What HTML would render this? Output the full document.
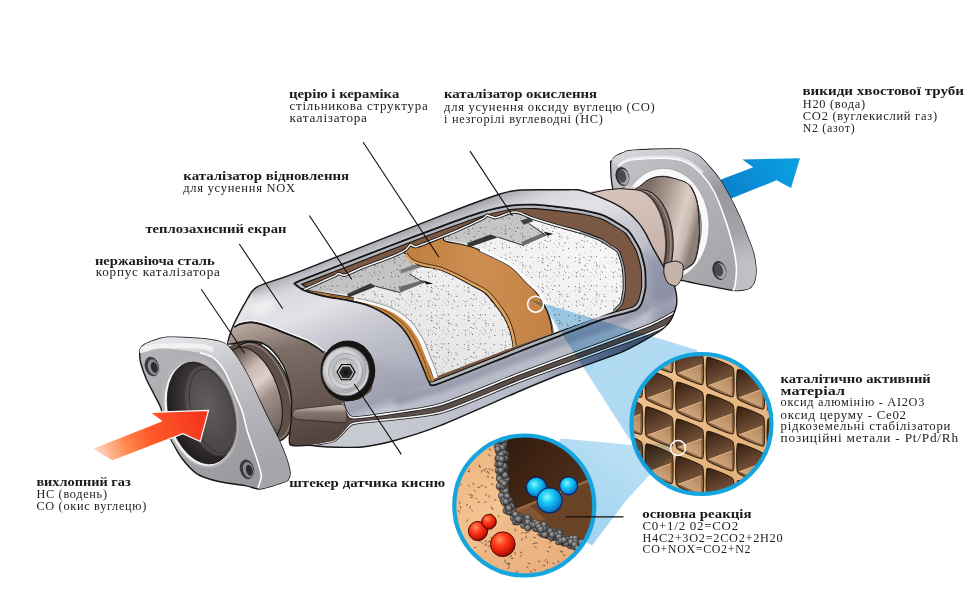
<!DOCTYPE html>
<html><head><meta charset="utf-8"><style>
html,body{margin:0;padding:0;background:#fff;width:976px;height:616px;overflow:hidden;}
svg{display:block;}
text{font-family:"Liberation Serif",serif;}
</style></head><body>
<svg width="976" height="616" viewBox="0 0 976 616">
<defs>
<linearGradient id="redArrow" x1="92" y1="455" x2="208" y2="415" gradientUnits="userSpaceOnUse"><stop offset="0" stop-color="#fde6da"/><stop offset="0.28" stop-color="#ff8a50"/><stop offset="0.5" stop-color="#ff5a28"/><stop offset="1" stop-color="#f3321e"/></linearGradient>
<linearGradient id="blueArrow" x1="715" y1="195" x2="800" y2="160" gradientUnits="userSpaceOnUse"><stop offset="0" stop-color="#0a7cc8"/><stop offset="0.45" stop-color="#0b8ed6"/><stop offset="1" stop-color="#08a2e2"/></linearGradient>
<linearGradient id="shell" x1="337" y1="250" x2="405" y2="432" gradientUnits="userSpaceOnUse"><stop offset="0" stop-color="#98989f"/><stop offset="0.03" stop-color="#a8a8b0"/><stop offset="0.07" stop-color="#c4c4cc"/><stop offset="0.12" stop-color="#d8d8de"/><stop offset="0.25" stop-color="#e2e2e7"/><stop offset="0.4" stop-color="#cacbd3"/><stop offset="0.55" stop-color="#babcc7"/><stop offset="0.7" stop-color="#aeb0be"/><stop offset="0.8" stop-color="#9fa2b3"/><stop offset="0.86" stop-color="#c6c8d2"/><stop offset="0.92" stop-color="#b6b8c4"/><stop offset="1" stop-color="#9a9cab"/></linearGradient>
<linearGradient id="shellL" x1="0" y1="0" x2="1" y2="0.4"><stop offset="0" stop-color="#e8e8ec"/><stop offset="0.5" stop-color="#c0c2c8"/><stop offset="1" stop-color="#9a9ca6"/></linearGradient>
<linearGradient id="flSide" x1="0" y1="0" x2="0.25" y2="1"><stop offset="0" stop-color="#ececf0"/><stop offset="0.3" stop-color="#c8c8cc"/><stop offset="0.7" stop-color="#b0b0b6"/><stop offset="1" stop-color="#a4a4aa"/></linearGradient>
<linearGradient id="flSideT" x1="0" y1="0" x2="0" y2="1"><stop offset="0" stop-color="#d8d8dc"/><stop offset="1" stop-color="#f4f4f6"/></linearGradient>
<linearGradient id="flFace" x1="0" y1="0" x2="1" y2="1"><stop offset="0" stop-color="#b8b8bc"/><stop offset="0.5" stop-color="#a4a4a8"/><stop offset="1" stop-color="#949498"/></linearGradient>
<linearGradient id="neckA" x1="0" y1="0" x2="1" y2="0.25"><stop offset="0" stop-color="#5c4c46"/><stop offset="0.3" stop-color="#8a7870"/><stop offset="0.5" stop-color="#d4c4bc"/><stop offset="0.62" stop-color="#a89890"/><stop offset="1" stop-color="#4c3c38"/></linearGradient>
<linearGradient id="neckB" x1="0" y1="0" x2="1" y2="0.25"><stop offset="0" stop-color="#d6c6bc"/><stop offset="0.35" stop-color="#a89288"/><stop offset="0.6" stop-color="#c8b8ae"/><stop offset="1" stop-color="#6a5a54"/></linearGradient>
<radialGradient id="opening" cx="0.62" cy="0.45" r="0.65"><stop offset="0" stop-color="#6e6666"/><stop offset="0.55" stop-color="#3e3636"/><stop offset="1" stop-color="#1c1818"/></radialGradient>
<linearGradient id="ceramA" x1="0" y1="1" x2="0.8" y2="0"><stop offset="0" stop-color="#b4b4b4"/><stop offset="0.35" stop-color="#e4e4e4"/><stop offset="1" stop-color="#f2f2f2"/></linearGradient>
<linearGradient id="ceramB" x1="0" y1="1" x2="0.8" y2="0"><stop offset="0" stop-color="#c8c8c8"/><stop offset="0.3" stop-color="#eeeeee"/><stop offset="1" stop-color="#f8f8f8"/></linearGradient>
<linearGradient id="topSurf" x1="0" y1="0" x2="1" y2="1"><stop offset="0" stop-color="#bcbcbc"/><stop offset="0.5" stop-color="#cacaca"/><stop offset="1" stop-color="#d6d6d6"/></linearGradient>
<linearGradient id="orange" x1="0" y1="0" x2="1" y2="0"><stop offset="0" stop-color="#c48040"/><stop offset="0.5" stop-color="#d49456"/><stop offset="1" stop-color="#c88446"/></linearGradient>
<pattern id="mesh" width="2.6" height="2.6" patternUnits="userSpaceOnUse" patternTransform="rotate(-25)"><path d="M0,0 H2.6 M0,0 V2.6" stroke="#8a5022" stroke-width="0.45" opacity="0.55"/></pattern>
<radialGradient id="sensorDisc" cx="0.45" cy="0.42" r="0.6"><stop offset="0" stop-color="#f4f4f4"/><stop offset="0.55" stop-color="#b4b4b8"/><stop offset="0.85" stop-color="#d8d8dc"/><stop offset="1" stop-color="#a0a0a4"/></radialGradient>
<radialGradient id="blueBall" cx="0.4" cy="0.36" r="0.7"><stop offset="0" stop-color="#90f4ff"/><stop offset="0.35" stop-color="#18ccf4"/><stop offset="0.75" stop-color="#0a8ad8"/><stop offset="1" stop-color="#0650a8"/></radialGradient>
<radialGradient id="redBall" cx="0.38" cy="0.32" r="0.7"><stop offset="0" stop-color="#ff9060"/><stop offset="0.4" stop-color="#ff3a18"/><stop offset="0.8" stop-color="#d01808"/><stop offset="1" stop-color="#801008"/></radialGradient>
<radialGradient id="grayBall" cx="0.38" cy="0.32" r="0.7"><stop offset="0" stop-color="#a8a8a8"/><stop offset="0.6" stop-color="#686868"/><stop offset="1" stop-color="#3a3a3a"/></radialGradient>
<linearGradient id="darkBrown" x1="0" y1="0" x2="1" y2="1"><stop offset="0" stop-color="#2c180c"/><stop offset="0.5" stop-color="#4a2a18"/><stop offset="1" stop-color="#6a4428"/></linearGradient>
<radialGradient id="tan" cx="0.35" cy="0.65" r="0.75"><stop offset="0" stop-color="#f6c898"/><stop offset="0.7" stop-color="#eeb884"/><stop offset="1" stop-color="#e4a874"/></radialGradient>
<linearGradient id="cone1" x1="0" y1="0" x2="1" y2="1"><stop offset="0" stop-color="#9ccff0"/><stop offset="0.5" stop-color="#b2dbf3"/><stop offset="1" stop-color="#aad6f2"/></linearGradient>
<linearGradient id="cone2" x1="1" y1="0" x2="0" y2="1"><stop offset="0" stop-color="#c4e4f6"/><stop offset="1" stop-color="#94cdee"/></linearGradient>
<linearGradient id="hcWall" x1="0" y1="0" x2="1" y2="1"><stop offset="0" stop-color="#f0c48e"/><stop offset="1" stop-color="#e2ae78"/></linearGradient>
<linearGradient id="flFaceO" x1="0" y1="0" x2="1" y2="1"><stop offset="0" stop-color="#c4c4c8"/><stop offset="0.5" stop-color="#b2b2b6"/><stop offset="1" stop-color="#a0a0a4"/></linearGradient>
<linearGradient id="flSideO" x1="0" y1="0" x2="0.35" y2="1"><stop offset="0" stop-color="#dcdce0"/><stop offset="0.2" stop-color="#c8c8cc"/><stop offset="0.5" stop-color="#96969c"/><stop offset="0.8" stop-color="#a4a4aa"/><stop offset="1" stop-color="#c0c0c4"/></linearGradient>
<linearGradient id="neckO" x1="645" y1="200" x2="700" y2="215" gradientUnits="userSpaceOnUse"><stop offset="0" stop-color="#7e6c64"/><stop offset="0.35" stop-color="#a89890"/><stop offset="0.7" stop-color="#dccec6"/><stop offset="0.85" stop-color="#c8b8b0"/><stop offset="1" stop-color="#8e7e78"/></linearGradient>
<linearGradient id="ecG" x1="0" y1="0" x2="0" y2="1"><stop offset="0" stop-color="#d6c4ba"/><stop offset="0.6" stop-color="#c8b4aa"/><stop offset="1" stop-color="#a8948a"/></linearGradient>
<linearGradient id="neckC" x1="235" y1="335" x2="275" y2="445" gradientUnits="userSpaceOnUse"><stop offset="0" stop-color="#4e3e3a"/><stop offset="0.18" stop-color="#6e5e58"/><stop offset="0.35" stop-color="#c8bab2"/><stop offset="0.48" stop-color="#dcd0c8"/><stop offset="0.62" stop-color="#a09088"/><stop offset="0.85" stop-color="#7a6a64"/><stop offset="1" stop-color="#4a3a36"/></linearGradient>
<clipPath id="bodyClip"><path d="M227.8,344.0 C227.0,343.2 228.9,338.1 229.5,336.0 C230.1,333.9 231.8,328.8 233.0,326.0 C234.2,323.2 238.4,315.1 240.0,312.0 C241.6,308.9 245.7,301.8 247.0,299.5 C248.3,297.2 250.4,293.4 251.5,292.0 C252.6,290.6 254.7,288.5 256.0,287.6 C257.3,286.7 257.8,286.2 262.9,284.3 C268.0,282.4 278.7,279.5 300.0,271.3 C321.3,263.1 422.4,222.9 445.7,213.9 C469.0,204.9 491.3,196.8 500.0,194.0 C508.7,191.2 513.0,190.5 520.0,190.0 C527.0,189.5 553.2,189.8 560.0,189.8 C566.8,189.8 574.4,189.4 577.9,189.8 C581.4,190.2 586.2,191.8 590.4,193.4 C594.6,195.0 609.2,201.0 613.6,203.2 C618.0,205.4 625.0,209.8 627.9,212.1 C630.8,214.4 636.5,220.4 638.6,222.9 C640.7,225.4 644.0,230.7 645.7,233.6 C647.4,236.5 651.2,244.8 652.9,247.9 C654.6,251.0 658.5,257.7 660.0,260.4 C661.5,263.1 664.6,268.7 666.0,271.0 C667.4,273.3 670.8,277.6 672.0,280.0 C673.2,282.4 675.5,289.1 676.0,292.0 C676.5,294.9 677.1,301.7 676.5,305.0 C675.9,308.3 672.9,317.0 671.0,320.0 C669.1,323.0 665.6,327.3 660.0,331.0 C654.4,334.7 635.0,346.2 623.3,351.3 C611.6,356.4 572.1,369.9 560.0,374.5 C547.9,379.1 534.0,385.0 520.0,391.0 C506.0,397.0 454.6,419.9 440.0,425.7 C425.4,431.5 403.9,438.0 394.8,440.5 C385.7,443.0 369.6,446.2 362.0,447.0 C354.4,447.8 336.1,447.2 330.0,447.0 C323.9,446.8 314.2,445.7 309.5,445.4 C304.8,445.1 292.2,447.3 290.0,444.5 C287.8,441.7 290.8,426.2 291.0,421.0 C291.2,415.8 291.7,404.6 291.5,400.0 C291.3,395.4 290.0,386.1 289.0,382.0 C288.0,377.9 284.9,368.6 283.0,365.0 C281.1,361.4 275.4,353.6 273.0,351.0 C270.6,348.4 264.9,344.2 262.0,343.0 C259.1,341.8 251.0,341.0 248.0,341.0 C245.0,341.0 238.4,342.6 236.0,343.0 C233.6,343.4 228.6,344.8 227.8,344.0 Z"/></clipPath>
<filter id="blur4" x="-50%" y="-50%" width="200%" height="200%"><feGaussianBlur stdDeviation="5"/></filter>
<filter id="blur2" x="-50%" y="-50%" width="200%" height="200%"><feGaussianBlur stdDeviation="2.5"/></filter>
<linearGradient id="lobeG" x1="380" y1="400" x2="660" y2="350" gradientUnits="userSpaceOnUse"><stop offset="0" stop-color="#c8cad2"/><stop offset="0.55" stop-color="#b4b8c6"/><stop offset="0.75" stop-color="#7a8098"/><stop offset="1" stop-color="#4a5068"/></linearGradient>
<linearGradient id="endcone" x1="0" y1="0" x2="0.3" y2="1"><stop offset="0" stop-color="#c2b2aa"/><stop offset="0.12" stop-color="#a89890"/><stop offset="0.3" stop-color="#7e6e68"/><stop offset="0.7" stop-color="#66564f"/><stop offset="1" stop-color="#54443e"/></linearGradient>
<linearGradient id="finG" x1="0" y1="0" x2="0" y2="1"><stop offset="0" stop-color="#cbbdb6"/><stop offset="0.3" stop-color="#a89890"/><stop offset="0.45" stop-color="#857570"/><stop offset="1" stop-color="#6e5e58"/></linearGradient>
<clipPath id="winClip"><path d="M295.5,284.5 C295.3,283.6 290.4,284.5 300.0,280.5 C309.6,276.5 378.0,250.2 392.0,244.8 C406.0,239.4 431.2,229.8 440.0,226.6 C448.8,223.4 473.0,214.6 480.0,212.5 C487.0,210.4 504.5,206.3 510.0,205.5 C515.5,204.7 530.0,204.3 535.0,204.5 C540.0,204.7 555.0,206.4 560.0,207.0 C565.0,207.6 580.5,209.6 585.0,210.5 C589.5,211.4 600.3,213.8 604.6,215.7 C608.9,217.6 624.4,226.7 627.9,230.0 C631.4,233.3 638.2,245.1 639.9,248.9 C641.6,252.7 644.6,264.5 645.2,268.4 C645.8,272.3 646.0,284.4 645.7,287.9 C645.4,291.4 642.9,301.1 641.8,303.4 C640.7,305.7 639.2,308.8 635.0,310.5 C630.8,312.2 607.5,317.9 600.0,320.5 C592.5,323.1 568.0,332.9 560.0,336.0 C552.0,339.1 532.3,346.5 520.0,351.4 C507.7,356.2 446.1,381.4 437.0,384.5 C427.9,387.6 430.2,383.2 429.0,382.0 C427.8,380.8 425.8,374.7 424.7,372.1 C423.6,369.5 419.4,359.1 418.0,356.0 C416.6,352.9 412.1,343.5 410.9,341.2 C409.7,338.9 407.1,334.5 406.0,333.0 C404.9,331.5 401.6,327.4 400.0,325.8 C398.4,324.2 392.1,319.0 390.0,317.5 C387.9,316.0 381.0,311.7 378.5,310.4 C376.0,309.1 368.1,305.5 365.0,304.5 C361.9,303.5 351.5,301.2 348.0,300.5 C344.5,299.8 333.3,298.1 330.0,297.5 C326.7,296.9 317.8,294.8 315.0,294.0 C312.2,293.2 303.9,290.4 302.0,289.5 C300.1,288.6 295.7,285.4 295.5,284.5 Z"/></clipPath>
<clipPath id="inClip"><path d="M300.0,291.0 C299.4,290.7 303.8,289.8 306.1,288.8 C308.4,287.8 320.1,282.4 323.0,281.1 C325.9,279.8 333.8,276.5 335.3,275.7 C336.8,274.9 337.5,273.4 338.4,273.4 C339.3,273.4 342.3,275.8 344.6,275.3 C346.9,274.8 356.7,269.9 361.5,268.0 C366.3,266.1 387.8,258.3 392.2,256.5 C396.6,254.7 404.2,250.8 406.0,249.6 C407.8,248.4 409.5,244.8 410.6,244.5 C411.7,244.2 412.9,247.6 416.8,246.5 C420.7,245.4 446.2,235.0 450.0,233.5 C453.8,232.0 451.7,233.0 455.0,231.5 C458.3,230.0 480.1,219.9 483.3,218.3 C486.5,216.7 485.8,215.3 487.0,215.2 C488.2,215.1 493.5,217.9 495.6,217.7 C497.7,217.5 505.8,214.0 507.9,213.4 C510.0,212.8 514.9,212.0 516.5,212.1 C518.1,212.2 522.4,214.0 523.9,214.6 C525.4,215.2 527.6,216.5 531.2,217.7 C534.8,218.9 555.1,225.1 560.0,226.5 C564.9,227.9 576.0,230.7 580.0,232.0 C584.0,233.3 596.8,238.0 600.0,239.5 C603.2,241.0 610.1,245.8 612.0,247.0 C613.9,248.2 617.4,249.9 618.5,252.0 C619.6,254.1 622.8,264.8 623.4,268.4 C624.0,272.0 624.5,284.5 624.3,288.0 C624.1,291.5 622.4,301.1 621.4,303.4 C620.4,305.7 616.1,309.7 614.0,311.0 C611.9,312.3 605.4,314.6 600.0,316.5 C594.6,318.4 568.0,327.7 560.0,330.5 C552.0,333.3 532.0,340.1 520.0,344.5 C508.0,348.9 448.6,371.6 440.0,375.0 C431.4,378.4 435.3,378.7 434.0,378.0 C432.7,377.3 428.4,370.6 427.0,368.0 C425.6,365.4 421.4,355.0 420.0,352.0 C418.6,349.0 414.6,340.7 413.0,338.0 C411.4,335.3 406.1,327.4 404.0,325.0 C401.9,322.6 394.6,315.9 392.0,314.0 C389.4,312.1 380.7,307.8 378.0,306.5 C375.3,305.2 368.0,302.4 365.0,301.5 C362.0,300.6 351.5,298.2 348.0,297.5 C344.5,296.8 333.6,295.1 330.0,294.5 C326.4,293.9 315.0,292.4 312.0,292.0 C309.0,291.6 300.6,291.3 300.0,291.0 Z"/></clipPath>
<pattern id="speck" width="37" height="29" patternUnits="userSpaceOnUse"><g fill="#333"><circle cx="12.0" cy="4.4" r="0.50"/><circle cx="2.7" cy="15.5" r="0.41"/><circle cx="2.1" cy="14.7" r="0.31"/><circle cx="16.0" cy="2.0" r="0.33"/><circle cx="15.7" cy="24.0" r="0.34"/><circle cx="8.3" cy="18.2" r="0.58"/><circle cx="21.4" cy="11.5" r="0.59"/><circle cx="1.7" cy="24.9" r="0.39"/><circle cx="5.3" cy="3.4" r="0.39"/><circle cx="30.2" cy="5.2" r="0.47"/><circle cx="23.6" cy="10.8" r="0.46"/><circle cx="2.3" cy="1.7" r="0.36"/><circle cx="25.2" cy="12.4" r="0.39"/><circle cx="21.7" cy="13.1" r="0.39"/><circle cx="29.4" cy="20.3" r="0.37"/><circle cx="21.3" cy="15.2" r="0.56"/><circle cx="27.0" cy="8.4" r="0.59"/><circle cx="4.4" cy="12.1" r="0.53"/><circle cx="5.6" cy="14.2" r="0.31"/><circle cx="24.7" cy="22.2" r="0.47"/><circle cx="32.4" cy="9.1" r="0.51"/><circle cx="22.0" cy="16.8" r="0.44"/><circle cx="31.1" cy="27.4" r="0.44"/><circle cx="24.6" cy="1.8" r="0.51"/><circle cx="23.9" cy="28.8" r="0.55"/><circle cx="10.5" cy="11.2" r="0.50"/><circle cx="0.8" cy="13.4" r="0.35"/><circle cx="4.3" cy="1.7" r="0.53"/><circle cx="4.8" cy="7.2" r="0.42"/><circle cx="32.2" cy="2.3" r="0.43"/><circle cx="20.3" cy="25.6" r="0.55"/><circle cx="32.0" cy="8.1" r="0.42"/><circle cx="13.3" cy="25.6" r="0.59"/><circle cx="5.6" cy="5.1" r="0.37"/><circle cx="8.6" cy="14.1" r="0.48"/><circle cx="9.7" cy="0.1" r="0.43"/><circle cx="13.7" cy="16.4" r="0.59"/><circle cx="25.5" cy="14.9" r="0.49"/><circle cx="25.0" cy="1.6" r="0.57"/><circle cx="28.9" cy="25.4" r="0.54"/><circle cx="14.5" cy="11.6" r="0.33"/><circle cx="23.5" cy="1.8" r="0.32"/><circle cx="7.7" cy="4.7" r="0.40"/><circle cx="1.9" cy="0.0" r="0.35"/><circle cx="3.8" cy="10.5" r="0.31"/><circle cx="32.4" cy="17.8" r="0.34"/><circle cx="9.3" cy="10.1" r="0.41"/><circle cx="4.5" cy="24.6" r="0.60"/><circle cx="17.2" cy="14.0" r="0.33"/><circle cx="3.8" cy="9.9" r="0.38"/><circle cx="30.7" cy="4.7" r="0.31"/><circle cx="35.2" cy="15.3" r="0.34"/><circle cx="20.1" cy="0.8" r="0.46"/><circle cx="36.2" cy="25.0" r="0.51"/><circle cx="9.7" cy="10.6" r="0.35"/><circle cx="28.6" cy="15.4" r="0.53"/><circle cx="12.2" cy="6.5" r="0.54"/><circle cx="36.4" cy="24.7" r="0.54"/><circle cx="30.3" cy="21.5" r="0.37"/><circle cx="19.2" cy="10.3" r="0.31"/><circle cx="1.0" cy="8.1" r="0.38"/><circle cx="25.6" cy="27.7" r="0.43"/><circle cx="34.7" cy="28.7" r="0.59"/><circle cx="13.5" cy="6.4" r="0.37"/><circle cx="7.3" cy="5.9" r="0.49"/><circle cx="33.3" cy="24.4" r="0.44"/><circle cx="24.2" cy="23.2" r="0.33"/><circle cx="24.4" cy="26.4" r="0.53"/><circle cx="27.8" cy="13.9" r="0.35"/><circle cx="29.2" cy="9.6" r="0.54"/><circle cx="36.0" cy="11.5" r="0.42"/><circle cx="35.0" cy="21.0" r="0.35"/><circle cx="4.7" cy="4.4" r="0.57"/><circle cx="29.8" cy="4.2" r="0.55"/><circle cx="36.3" cy="19.1" r="0.41"/></g></pattern>
<radialGradient id="sensorDisc2" cx="0.45" cy="0.45" r="0.6"><stop offset="0" stop-color="#f0f0f0"/><stop offset="0.35" stop-color="#b8b8bc"/><stop offset="0.6" stop-color="#d8d8dc"/><stop offset="0.8" stop-color="#a8a8ac"/><stop offset="0.92" stop-color="#e4e4e8"/><stop offset="1" stop-color="#9a9a9e"/></radialGradient>
<radialGradient id="hexIn" cx="0.5" cy="0.5" r="0.6"><stop offset="0" stop-color="#101010"/><stop offset="1" stop-color="#3a3a3a"/></radialGradient>
<clipPath id="hcClip"><circle cx="701.5" cy="424" r="70"/></clipPath>
<linearGradient id="cellG" x1="0" y1="0" x2="0.3" y2="1"><stop offset="0" stop-color="#341e0f"/><stop offset="0.45" stop-color="#5e3f2a"/><stop offset="1" stop-color="#8e6846"/></linearGradient>
<linearGradient id="triG" x1="0" y1="1" x2="1" y2="0"><stop offset="0" stop-color="#dab48c"/><stop offset="0.6" stop-color="#c49a70"/><stop offset="1" stop-color="#b0845c"/></linearGradient>
<clipPath id="rcClip"><circle cx="524.3" cy="505.5" r="70"/></clipPath>
</defs>
<rect width="976" height="616" fill="#ffffff"/>
<polygon points="800.0,158.2 742.3,159.5 753.2,167.3 712.0,183.0 720.0,203.0 776.6,180.3 791.0,188.0" fill="url(#blueArrow)"/>
<path d="M610.6,164.4 C610.4,159.5 610.8,162.2 611.7,160.8 C612.6,159.4 614.0,157.4 616.0,156.0 C618.0,154.6 621.5,153.4 624.0,152.5 C626.5,151.6 622.2,151.0 631.2,150.4 C640.2,149.8 668.2,148.8 678.0,149.0 C687.8,149.2 686.5,150.4 690.0,151.5 C693.5,152.6 695.7,153.3 698.7,155.6 C701.7,157.8 704.5,161.1 708.0,165.0 C711.5,168.9 715.8,173.7 719.5,179.0 C723.2,184.3 726.5,190.5 730.0,197.0 C733.5,203.5 737.5,211.7 740.3,218.0 C743.1,224.3 744.9,229.4 747.0,235.0 C749.1,240.6 751.7,246.5 753.2,251.7 C754.7,256.9 755.4,262.1 755.8,266.0 C756.2,269.9 756.2,272.0 755.8,275.0 C755.4,278.0 754.8,281.7 753.5,284.0 C752.2,286.3 751.1,287.9 748.0,289.0 C744.9,290.1 741.2,291.1 735.0,290.6 C728.8,290.2 718.9,287.8 710.8,286.3 C702.7,284.8 693.3,283.1 686.5,281.4 C679.7,279.7 676.9,280.4 670.0,276.0 C663.1,271.6 652.5,263.5 645.0,255.0 C637.5,246.5 630.3,235.8 625.0,225.0 C619.7,214.2 615.4,200.1 613.0,190.0 C610.6,179.9 610.8,169.3 610.6,164.4 Z" fill="url(#flFaceO)" stroke="#161616" stroke-width="1.3"/>
<path d="M611.7,160.8 C611.4,159.6 614.6,157.0 616.0,156.0 C617.4,155.0 622.2,153.2 624.0,152.5 C625.8,151.8 624.9,150.8 631.2,150.4 C637.5,150.0 671.1,148.9 678.0,149.0 C684.9,149.1 687.6,150.7 690.0,151.5 C692.4,152.3 696.6,154.0 698.7,155.6 C700.8,157.2 705.6,162.3 708.0,165.0 C710.4,167.7 716.9,175.3 719.5,179.0 C722.1,182.7 727.6,192.4 730.0,197.0 C732.4,201.6 738.3,213.6 740.3,218.0 C742.3,222.4 745.5,231.1 747.0,235.0 C748.5,238.9 752.2,248.1 753.2,251.7 C754.2,255.3 755.5,263.3 755.8,266.0 C756.1,268.7 756.1,272.9 755.8,275.0 C755.5,277.1 754.4,282.4 753.5,284.0 C752.6,285.6 750.2,288.2 748.0,289.0 C745.8,289.8 736.8,290.4 735.0,290.6 C733.2,290.8 733.0,291.1 733.0,290.5 C733.0,289.9 734.6,288.2 735.0,285.5 C735.4,282.8 736.7,272.1 736.4,267.3 C736.1,262.5 733.9,249.8 732.5,244.0 C731.1,238.2 726.8,224.1 724.7,218.0 C722.6,211.9 717.0,197.2 714.3,192.0 C711.6,186.8 704.6,177.3 701.3,173.8 C698.0,170.3 689.9,163.8 685.7,162.0 C681.5,160.2 671.1,158.5 665.0,158.2 C658.9,157.9 638.6,159.1 633.8,159.5 C629.0,159.9 625.8,161.2 624.0,162.0 C622.2,162.8 619.6,166.1 618.2,166.0 C616.8,165.9 612.0,162.0 611.7,160.8 Z" fill="url(#flSideO)"/>
<path d="M618.2,166.0 C619.0,165.5 621.9,162.9 624.0,162.0 C626.1,161.1 628.3,160.0 633.8,159.5 C639.3,159.0 658.1,157.9 665.0,158.2 C671.9,158.5 680.9,159.9 685.7,162.0 C690.5,164.1 697.5,169.8 701.3,173.8 C705.1,177.8 711.2,186.1 714.3,192.0 C717.4,197.9 722.3,211.1 724.7,218.0 C727.1,224.9 730.9,237.4 732.5,244.0 C734.1,250.6 736.1,261.8 736.4,267.3 C736.7,272.8 735.5,282.4 735.0,285.5 C734.5,288.6 733.3,289.8 733.0,290.5" fill="none" stroke="#ffffff" stroke-width="1.6"/>
<path d="M619.7,164.8 C620.5,164.3 623.4,161.7 625.5,160.8 C627.6,159.9 629.8,158.8 635.3,158.3 C640.8,157.8 659.6,156.7 666.5,157.0 C673.4,157.3 682.4,158.7 687.2,160.8 C692.0,162.9 700.7,171.0 702.8,172.6" fill="none" stroke="#f0f0f2" stroke-width="3" opacity="0.7"/>
<ellipse cx="622.5" cy="176.5" rx="6.8" ry="9.6" transform="rotate(-15 622.5 176.5)" fill="#2e2e32"/>
<ellipse cx="623.3" cy="177.3" rx="5.4" ry="8" transform="rotate(-15 622.5 176.5)" fill="#a4a4a8"/>
<ellipse cx="621.9" cy="175.9" rx="4.2" ry="6.6" transform="rotate(-15 622.5 176.5)" fill="#4a4a4e"/>
<ellipse cx="719.4" cy="270.5" rx="6.8" ry="9.6" transform="rotate(-15 719.4 270.5)" fill="#2e2e32"/>
<ellipse cx="720.1999999999999" cy="271.3" rx="5.4" ry="8" transform="rotate(-15 719.4 270.5)" fill="#a4a4a8"/>
<ellipse cx="718.8" cy="269.9" rx="4.2" ry="6.6" transform="rotate(-15 719.4 270.5)" fill="#4a4a4e"/>
<ellipse cx="664.7" cy="224.4" rx="44.4" ry="56.2" transform="rotate(-3 664.7 224.4)" fill="#f8f8f8" stroke="#8a8a8e" stroke-width="0.6"/>
<ellipse cx="664" cy="225.5" rx="37.5" ry="49.5" transform="rotate(-3 664 225.5)" fill="#a8a8ac" stroke="#6a6a6e" stroke-width="0.8"/>
<path d="M620.0,190.0 C623.5,184.8 631.2,190.2 636.0,188.5 C640.8,186.8 644.4,181.5 648.7,179.5 C653.0,177.5 656.7,176.5 661.7,176.5 C666.7,176.5 674.0,178.2 678.7,179.7 C683.4,181.1 687.0,182.6 689.7,185.2 C692.4,187.8 693.6,191.3 695.0,195.0 C696.4,198.7 697.3,200.7 698.0,207.3 C698.7,214.0 699.9,226.2 699.4,234.9 C698.9,243.6 697.3,254.2 695.2,259.7 C693.1,265.2 690.9,265.4 687.0,268.0 C683.1,270.6 677.3,273.0 672.0,275.0 C666.7,277.0 660.3,278.3 655.0,280.0 C649.7,281.7 645.0,288.3 640.0,285.0 C635.0,281.7 629.2,270.8 625.0,260.0 C620.8,249.2 615.8,231.7 615.0,220.0 C614.2,208.3 616.5,195.2 620.0,190.0 Z" fill="url(#neckO)" stroke="#161616" stroke-width="1"/>
<path d="M689.7,185.2 C690.6,186.8 693.6,191.3 695.0,195.0 C696.4,198.7 697.3,200.7 698.0,207.3 C698.7,214.0 699.9,226.2 699.4,234.9 C698.9,243.6 697.3,254.2 695.2,259.7 C693.1,265.2 688.4,266.6 687.0,268.0" fill="none" stroke="#3a302c" stroke-width="1.2"/>
<ellipse cx="644" cy="241.6" rx="29.2" ry="51.8" transform="rotate(-3 644 241.6)" fill="#6e5e58" stroke="#161616" stroke-width="0.9"/>
<ellipse cx="642.5" cy="241.6" rx="28.4" ry="51" transform="rotate(-3 642.5 241.6)" fill="none" stroke="#a29088" stroke-width="1.2"/>
<path d="M588.0,193.4 C589.0,190.1 602.9,190.3 605.0,190.0 C607.1,189.7 617.9,188.5 620.0,188.5 C622.1,188.5 634.9,182.4 636.0,189.8 C637.1,197.2 638.4,292.7 636.0,300.0 C633.6,307.3 603.1,304.0 600.0,300.0 C596.9,296.0 590.8,247.1 590.0,240.0 C589.2,232.9 587.0,196.7 588.0,193.4 Z" fill="url(#ecG)"/>
<ellipse cx="635.8" cy="241.6" rx="29.2" ry="51.8" transform="rotate(-3 635.8 241.6)" fill="url(#ecG)"/>
<path d="M635.8,189.8 A29.2,51.8 -3 0 1 638.5,293.3" fill="none" stroke="#161616" stroke-width="0.9"/>
<path d="M590,193.4 L605,190 L620,188.6 L636,189.8" fill="none" stroke="#161616" stroke-width="1"/>
<path d="M222,352 L240,339 L262,341 L262,446 L232,446 Z" fill="url(#neckC)"/>
<ellipse cx="262" cy="392" rx="28.5" ry="52" transform="rotate(-20 262 392)" fill="#5e4e48" stroke="#161616" stroke-width="1.1"/>
<ellipse cx="261" cy="392.3" rx="26.5" ry="50.5" transform="rotate(-20 261 392.3)" fill="none" stroke="#9a8a84" stroke-width="1.2" opacity="0.9"/>
<ellipse cx="253.5" cy="394" rx="25" ry="49" transform="rotate(-20 253.5 394)" fill="url(#neckC)" stroke="#161616" stroke-width="1"/>
<path d="M227.8,344.0 C227.0,343.2 228.9,338.1 229.5,336.0 C230.1,333.9 231.8,328.8 233.0,326.0 C234.2,323.2 238.4,315.1 240.0,312.0 C241.6,308.9 245.7,301.8 247.0,299.5 C248.3,297.2 250.4,293.4 251.5,292.0 C252.6,290.6 254.7,288.5 256.0,287.6 C257.3,286.7 257.8,286.2 262.9,284.3 C268.0,282.4 278.7,279.5 300.0,271.3 C321.3,263.1 422.4,222.9 445.7,213.9 C469.0,204.9 491.3,196.8 500.0,194.0 C508.7,191.2 513.0,190.5 520.0,190.0 C527.0,189.5 553.2,189.8 560.0,189.8 C566.8,189.8 574.4,189.4 577.9,189.8 C581.4,190.2 586.2,191.8 590.4,193.4 C594.6,195.0 609.2,201.0 613.6,203.2 C618.0,205.4 625.0,209.8 627.9,212.1 C630.8,214.4 636.5,220.4 638.6,222.9 C640.7,225.4 644.0,230.7 645.7,233.6 C647.4,236.5 651.2,244.8 652.9,247.9 C654.6,251.0 658.5,257.7 660.0,260.4 C661.5,263.1 664.6,268.7 666.0,271.0 C667.4,273.3 670.8,277.6 672.0,280.0 C673.2,282.4 675.5,289.1 676.0,292.0 C676.5,294.9 677.1,301.7 676.5,305.0 C675.9,308.3 672.9,317.0 671.0,320.0 C669.1,323.0 665.6,327.3 660.0,331.0 C654.4,334.7 635.0,346.2 623.3,351.3 C611.6,356.4 572.1,369.9 560.0,374.5 C547.9,379.1 534.0,385.0 520.0,391.0 C506.0,397.0 454.6,419.9 440.0,425.7 C425.4,431.5 403.9,438.0 394.8,440.5 C385.7,443.0 369.6,446.2 362.0,447.0 C354.4,447.8 336.1,447.2 330.0,447.0 C323.9,446.8 314.2,445.7 309.5,445.4 C304.8,445.1 292.2,447.3 290.0,444.5 C287.8,441.7 290.8,426.2 291.0,421.0 C291.2,415.8 291.7,404.6 291.5,400.0 C291.3,395.4 290.0,386.1 289.0,382.0 C288.0,377.9 284.9,368.6 283.0,365.0 C281.1,361.4 275.4,353.6 273.0,351.0 C270.6,348.4 264.9,344.2 262.0,343.0 C259.1,341.8 251.0,341.0 248.0,341.0 C245.0,341.0 238.4,342.6 236.0,343.0 C233.6,343.4 228.6,344.8 227.8,344.0 Z" fill="url(#shell)"/>
<g clip-path="url(#bodyClip)">
<ellipse cx="262" cy="306" rx="16" ry="9" transform="rotate(-25 262 306)" fill="#ffffff" opacity="0.6" filter="url(#blur4)"/>
<path d="M395.0,402.0 L440.0,389.0 L520.0,358.0 L560.0,343.0 L628.0,318.0 L650.0,305.0" fill="none" stroke="#8a8ea2" stroke-width="9" opacity="0.75" filter="url(#blur2)"/>
<path d="M372,360 L420,380 L400,400 L372,398 Z" fill="#9a9cac" opacity="0.5" filter="url(#blur4)"/>
<path d="M645,250 L678,268 L680,322 L655,333 Z" fill="#7e8298" opacity="0.6" filter="url(#blur4)"/>
<path d="M606,222 Q628,232 640,250" fill="none" stroke="#ffffff" stroke-width="3" opacity="0.8" filter="url(#blur2)"/>
<path d="M252,296 Q244,312 238,322" fill="none" stroke="#ffffff" stroke-width="4" opacity="0.6" filter="url(#blur2)"/>
<path d="M342.3,402.8 C346.9,398.7 344.6,409.5 345.6,411.0 C346.6,412.5 348.7,417.1 352.0,417.5 C355.3,417.9 369.6,416.3 378.4,415.0 C387.2,413.7 425.8,408.9 440.0,404.8 C454.2,400.7 504.0,379.6 520.0,373.5 C536.0,367.4 587.0,348.9 600.0,344.0 C613.0,339.1 643.2,327.8 650.0,325.0 C656.8,322.2 665.0,317.6 668.0,316.0 C671.0,314.4 678.8,308.8 680.0,309.0 C681.2,309.2 681.2,316.9 680.0,318.5 C678.8,320.1 671.0,323.6 668.0,325.0 C665.0,326.4 656.8,330.4 650.0,333.0 C643.2,335.6 613.0,346.7 600.0,351.5 C587.0,356.3 536.0,374.9 520.0,381.0 C504.0,387.1 456.1,408.4 440.0,412.6 C423.9,416.8 367.8,421.2 358.7,422.6 C349.6,424.0 351.4,424.6 348.9,426.4 C346.4,428.2 337.9,438.6 334.0,440.5 C330.1,442.4 312.9,444.2 309.5,445.4 C306.1,446.5 296.7,456.3 300.0,452.0 C303.3,447.7 337.7,406.9 342.3,402.8 Z" fill="#5c4e4a"/>
<path d="M342.3,402.8 C342.7,403.8 344.5,409.3 345.6,411.0 C346.7,412.7 348.2,417.0 352.0,417.5 C355.8,418.0 368.1,416.5 378.4,415.0 C388.7,413.5 423.5,409.6 440.0,404.8 C456.5,400.0 501.3,380.6 520.0,373.5 C538.7,366.4 584.8,349.7 600.0,344.0 C615.2,338.3 642.1,328.3 650.0,325.0 C657.9,321.7 664.5,317.9 668.0,316.0 C671.5,314.1 678.6,309.8 680.0,309.0" fill="none" stroke="#161616" stroke-width="3.2"/>
<path d="M342.3,402.8 C342.7,403.8 344.5,409.3 345.6,411.0 C346.7,412.7 348.2,417.0 352.0,417.5 C355.8,418.0 368.1,416.5 378.4,415.0 C388.7,413.5 423.5,409.6 440.0,404.8 C456.5,400.0 501.3,380.6 520.0,373.5 C538.7,366.4 584.8,349.7 600.0,344.0 C615.2,338.3 642.1,328.3 650.0,325.0 C657.9,321.7 664.5,317.9 668.0,316.0 C671.5,314.1 678.6,309.8 680.0,309.0" fill="none" stroke="#ffffff" stroke-width="1.6"/>
<path d="M300.0,452.0 C300.6,450.4 307.2,446.2 309.5,445.4 C311.8,444.6 331.4,441.8 334.0,440.5 C336.6,439.2 347.3,427.6 348.9,426.4 C350.5,425.2 352.6,423.5 358.7,422.6 C364.8,421.7 429.2,415.4 440.0,412.6 C450.8,409.8 509.3,385.1 520.0,381.0 C530.7,376.9 591.3,354.7 600.0,351.5 C608.7,348.3 645.5,334.8 650.0,333.0 C654.5,331.2 666.0,326.0 668.0,325.0 C670.0,324.0 678.5,318.2 680.0,318.5 C681.5,318.8 689.3,319.9 690.0,330.0 C690.7,340.1 716.0,460.7 690.0,470.0 C664.0,479.3 326.0,471.2 300.0,470.0 C274.0,468.8 299.4,453.6 300.0,452.0 Z" fill="url(#lobeG)"/>
<path d="M300.0,452.0 C301.1,451.2 305.5,446.7 309.5,445.4 C313.5,444.1 329.4,442.7 334.0,440.5 C338.6,438.3 346.0,428.5 348.9,426.4 C351.8,424.3 348.1,424.2 358.7,422.6 C369.3,421.0 421.2,417.5 440.0,412.6 C458.8,407.7 501.3,388.1 520.0,381.0 C538.7,373.9 584.8,357.1 600.0,351.5 C615.2,345.9 642.1,336.1 650.0,333.0 C657.9,329.9 664.5,326.7 668.0,325.0 C671.5,323.3 678.6,319.3 680.0,318.5" fill="none" stroke="#161616" stroke-width="3"/>
<path d="M300.0,452.0 C301.1,451.2 305.5,446.7 309.5,445.4 C313.5,444.1 329.4,442.7 334.0,440.5 C338.6,438.3 346.0,428.5 348.9,426.4 C351.8,424.3 348.1,424.2 358.7,422.6 C369.3,421.0 421.2,417.5 440.0,412.6 C458.8,407.7 501.3,388.1 520.0,381.0 C538.7,373.9 584.8,357.1 600.0,351.5 C615.2,345.9 642.1,336.1 650.0,333.0 C657.9,329.9 664.5,326.7 668.0,325.0 C671.5,323.3 678.6,319.3 680.0,318.5" fill="none" stroke="#f4f4f8" stroke-width="1.5"/>
<path d="M229.0,343.0 C224.8,331.1 232.9,328.9 234.0,327.0 C235.1,325.1 238.3,324.4 240.0,323.9 C241.7,323.4 249.1,322.1 251.4,322.2 C253.7,322.2 260.4,323.8 262.7,324.4 C265.0,325.0 271.8,327.5 274.1,328.4 C276.4,329.3 283.2,332.1 285.5,333.0 C287.8,333.9 294.5,336.6 296.8,337.5 C299.1,338.4 305.9,340.9 308.2,342.0 C310.5,343.1 317.9,347.8 319.5,348.9 C321.1,349.9 322.4,352.4 324.0,352.5 C325.6,352.6 332.4,350.1 335.0,350.0 C337.6,349.9 347.0,351.2 350.0,352.0 C353.0,352.8 362.8,356.0 365.0,358.0 C367.2,360.0 371.3,368.8 372.0,372.0 C372.7,375.2 373.0,387.0 371.8,389.7 C370.6,392.4 362.3,397.9 360.0,399.0 C357.7,400.1 350.7,400.7 348.9,401.1 C347.1,401.5 342.6,401.8 342.3,402.8 C342.0,403.8 344.8,409.5 345.6,411.0 C346.4,412.5 349.6,416.9 350.0,418.0 C350.4,419.1 350.4,420.9 350.0,422.0 C349.6,423.1 347.6,427.1 346.0,429.0 C344.4,430.9 337.6,438.9 334.0,440.5 C330.4,442.1 313.9,444.8 309.5,445.4 C305.1,445.9 293.4,445.9 290.0,446.0 C286.6,446.1 282.1,456.3 276.0,446.0 C269.9,435.7 233.2,354.9 229.0,343.0 Z" fill="url(#endcone)"/>
<path d="M234.0,327.0 C234.8,326.6 237.7,324.5 240.0,323.9 C242.3,323.3 248.4,322.1 251.4,322.2 C254.4,322.3 259.7,323.6 262.7,324.4 C265.7,325.2 271.1,327.3 274.1,328.4 C277.1,329.5 282.5,331.8 285.5,333.0 C288.5,334.2 293.8,336.3 296.8,337.5 C299.8,338.7 305.2,340.5 308.2,342.0 C311.2,343.5 317.4,347.5 319.5,348.9 C321.6,350.3 323.4,352.0 324.0,352.5" fill="none" stroke="#161616" stroke-width="2.2"/>
<path d="M234.0,325.4 C234.8,325.0 237.7,322.9 240.0,322.3 C242.3,321.7 248.4,320.5 251.4,320.6 C254.4,320.7 259.7,322.0 262.7,322.8 C265.7,323.6 271.1,325.7 274.1,326.8 C277.1,327.9 282.5,330.2 285.5,331.4 C288.5,332.6 293.8,334.7 296.8,335.9 C299.8,337.1 305.2,338.9 308.2,340.4 C311.2,341.9 317.4,345.9 319.5,347.3 C321.6,348.7 323.4,350.4 324.0,350.9" fill="none" stroke="#f6f6f6" stroke-width="1.4"/>
<path d="M292.0,414.0 C292.0,413.0 293.6,410.1 296.4,409.3 C299.2,408.6 315.4,407.0 320.0,406.5 C324.6,406.0 339.7,404.0 342.3,404.4 C344.9,404.8 345.7,408.2 346.0,410.0 C346.3,411.8 348.2,421.4 345.6,422.5 C343.0,423.6 324.9,421.3 320.0,421.0 C315.1,420.7 299.2,419.9 296.4,419.2 C293.6,418.5 292.0,415.0 292.0,414.0 Z" fill="url(#finG)" stroke="#2a2220" stroke-width="0.8"/>
</g>
<path d="M227.8,344.0 C227.0,343.2 228.9,338.1 229.5,336.0 C230.1,333.9 231.8,328.8 233.0,326.0 C234.2,323.2 238.4,315.1 240.0,312.0 C241.6,308.9 245.7,301.8 247.0,299.5 C248.3,297.2 250.4,293.4 251.5,292.0 C252.6,290.6 254.7,288.5 256.0,287.6 C257.3,286.7 257.8,286.2 262.9,284.3 C268.0,282.4 278.7,279.5 300.0,271.3 C321.3,263.1 422.4,222.9 445.7,213.9 C469.0,204.9 491.3,196.8 500.0,194.0 C508.7,191.2 513.0,190.5 520.0,190.0 C527.0,189.5 553.2,189.8 560.0,189.8 C566.8,189.8 574.4,189.4 577.9,189.8 C581.4,190.2 586.2,191.8 590.4,193.4 C594.6,195.0 609.2,201.0 613.6,203.2 C618.0,205.4 625.0,209.8 627.9,212.1 C630.8,214.4 636.5,220.4 638.6,222.9 C640.7,225.4 644.0,230.7 645.7,233.6 C647.4,236.5 651.2,244.8 652.9,247.9 C654.6,251.0 658.5,257.7 660.0,260.4 C661.5,263.1 664.6,268.7 666.0,271.0 C667.4,273.3 670.8,277.6 672.0,280.0 C673.2,282.4 675.5,289.1 676.0,292.0 C676.5,294.9 677.1,301.7 676.5,305.0 C675.9,308.3 672.9,317.0 671.0,320.0 C669.1,323.0 665.6,327.3 660.0,331.0 C654.4,334.7 635.0,346.2 623.3,351.3 C611.6,356.4 572.1,369.9 560.0,374.5 C547.9,379.1 534.0,385.0 520.0,391.0 C506.0,397.0 454.6,419.9 440.0,425.7 C425.4,431.5 403.9,438.0 394.8,440.5 C385.7,443.0 369.6,446.2 362.0,447.0 C354.4,447.8 336.1,447.2 330.0,447.0 C323.9,446.8 314.2,445.7 309.5,445.4 C304.8,445.1 292.2,447.3 290.0,444.5 C287.8,441.7 290.8,426.2 291.0,421.0 C291.2,415.8 291.7,404.6 291.5,400.0 C291.3,395.4 290.0,386.1 289.0,382.0 C288.0,377.9 284.9,368.6 283.0,365.0 C281.1,361.4 275.4,353.6 273.0,351.0 C270.6,348.4 264.9,344.2 262.0,343.0 C259.1,341.8 251.0,341.0 248.0,341.0 C245.0,341.0 238.4,342.6 236.0,343.0 C233.6,343.4 228.6,344.8 227.8,344.0 Z" fill="none" stroke="#161616" stroke-width="1.4"/>
<path d="M295.5,284.5 C295.3,283.6 290.4,284.5 300.0,280.5 C309.6,276.5 378.0,250.2 392.0,244.8 C406.0,239.4 431.2,229.8 440.0,226.6 C448.8,223.4 473.0,214.6 480.0,212.5 C487.0,210.4 504.5,206.3 510.0,205.5 C515.5,204.7 530.0,204.3 535.0,204.5 C540.0,204.7 555.0,206.4 560.0,207.0 C565.0,207.6 580.5,209.6 585.0,210.5 C589.5,211.4 600.3,213.8 604.6,215.7 C608.9,217.6 624.4,226.7 627.9,230.0 C631.4,233.3 638.2,245.1 639.9,248.9 C641.6,252.7 644.6,264.5 645.2,268.4 C645.8,272.3 646.0,284.4 645.7,287.9 C645.4,291.4 642.9,301.1 641.8,303.4 C640.7,305.7 639.2,308.8 635.0,310.5 C630.8,312.2 607.5,317.9 600.0,320.5 C592.5,323.1 568.0,332.9 560.0,336.0 C552.0,339.1 532.3,346.5 520.0,351.4 C507.7,356.2 446.1,381.4 437.0,384.5 C427.9,387.6 430.2,383.2 429.0,382.0 C427.8,380.8 425.8,374.7 424.7,372.1 C423.6,369.5 419.4,359.1 418.0,356.0 C416.6,352.9 412.1,343.5 410.9,341.2 C409.7,338.9 407.1,334.5 406.0,333.0 C404.9,331.5 401.6,327.4 400.0,325.8 C398.4,324.2 392.1,319.0 390.0,317.5 C387.9,316.0 381.0,311.7 378.5,310.4 C376.0,309.1 368.1,305.5 365.0,304.5 C361.9,303.5 351.5,301.2 348.0,300.5 C344.5,299.8 333.3,298.1 330.0,297.5 C326.7,296.9 317.8,294.8 315.0,294.0 C312.2,293.2 303.9,290.4 302.0,289.5 C300.1,288.6 295.7,285.4 295.5,284.5 Z" fill="#7a5844"/>
<g clip-path="url(#winClip)">
<path d="M295.5,284.5 C295.3,283.6 290.4,284.5 300.0,280.5 C309.6,276.5 378.0,250.2 392.0,244.8 C406.0,239.4 431.2,229.8 440.0,226.6 C448.8,223.4 473.0,214.6 480.0,212.5 C487.0,210.4 504.5,206.3 510.0,205.5 C515.5,204.7 530.0,204.3 535.0,204.5 C540.0,204.7 555.0,206.4 560.0,207.0 C565.0,207.6 580.5,209.6 585.0,210.5 C589.5,211.4 600.3,213.8 604.6,215.7 C608.9,217.6 624.4,226.7 627.9,230.0 C631.4,233.3 638.2,245.1 639.9,248.9 C641.6,252.7 644.6,264.5 645.2,268.4 C645.8,272.3 646.0,284.4 645.7,287.9 C645.4,291.4 642.9,301.1 641.8,303.4 C640.7,305.7 639.2,308.8 635.0,310.5 C630.8,312.2 607.5,317.9 600.0,320.5 C592.5,323.1 568.0,332.9 560.0,336.0 C552.0,339.1 532.3,346.5 520.0,351.4 C507.7,356.2 446.1,381.4 437.0,384.5 C427.9,387.6 430.2,383.2 429.0,382.0 C427.8,380.8 425.8,374.7 424.7,372.1 C423.6,369.5 419.4,359.1 418.0,356.0 C416.6,352.9 412.1,343.5 410.9,341.2 C409.7,338.9 407.1,334.5 406.0,333.0 C404.9,331.5 401.6,327.4 400.0,325.8 C398.4,324.2 392.1,319.0 390.0,317.5 C387.9,316.0 381.0,311.7 378.5,310.4 C376.0,309.1 368.1,305.5 365.0,304.5 C361.9,303.5 351.5,301.2 348.0,300.5 C344.5,299.8 333.3,298.1 330.0,297.5 C326.7,296.9 317.8,294.8 315.0,294.0 C312.2,293.2 303.9,290.4 302.0,289.5 C300.1,288.6 295.7,285.4 295.5,284.5 Z" fill="none" stroke="#161616" stroke-width="9.4"/>
<path d="M295.5,284.5 C295.3,283.6 290.4,284.5 300.0,280.5 C309.6,276.5 378.0,250.2 392.0,244.8 C406.0,239.4 431.2,229.8 440.0,226.6 C448.8,223.4 473.0,214.6 480.0,212.5 C487.0,210.4 504.5,206.3 510.0,205.5 C515.5,204.7 530.0,204.3 535.0,204.5 C540.0,204.7 555.0,206.4 560.0,207.0 C565.0,207.6 580.5,209.6 585.0,210.5 C589.5,211.4 600.3,213.8 604.6,215.7 C608.9,217.6 624.4,226.7 627.9,230.0 C631.4,233.3 638.2,245.1 639.9,248.9 C641.6,252.7 644.6,264.5 645.2,268.4 C645.8,272.3 646.0,284.4 645.7,287.9 C645.4,291.4 642.9,301.1 641.8,303.4 C640.7,305.7 639.2,308.8 635.0,310.5 C630.8,312.2 607.5,317.9 600.0,320.5 C592.5,323.1 568.0,332.9 560.0,336.0 C552.0,339.1 532.3,346.5 520.0,351.4 C507.7,356.2 446.1,381.4 437.0,384.5 C427.9,387.6 430.2,383.2 429.0,382.0 C427.8,380.8 425.8,374.7 424.7,372.1 C423.6,369.5 419.4,359.1 418.0,356.0 C416.6,352.9 412.1,343.5 410.9,341.2 C409.7,338.9 407.1,334.5 406.0,333.0 C404.9,331.5 401.6,327.4 400.0,325.8 C398.4,324.2 392.1,319.0 390.0,317.5 C387.9,316.0 381.0,311.7 378.5,310.4 C376.0,309.1 368.1,305.5 365.0,304.5 C361.9,303.5 351.5,301.2 348.0,300.5 C344.5,299.8 333.3,298.1 330.0,297.5 C326.7,296.9 317.8,294.8 315.0,294.0 C312.2,293.2 303.9,290.4 302.0,289.5 C300.1,288.6 295.7,285.4 295.5,284.5 Z" fill="none" stroke="#b4b4bc" stroke-width="7.2"/>
<path d="M295.5,284.5 C295.3,283.6 290.4,284.5 300.0,280.5 C309.6,276.5 378.0,250.2 392.0,244.8 C406.0,239.4 431.2,229.8 440.0,226.6 C448.8,223.4 473.0,214.6 480.0,212.5 C487.0,210.4 504.5,206.3 510.0,205.5 C515.5,204.7 530.0,204.3 535.0,204.5 C540.0,204.7 555.0,206.4 560.0,207.0 C565.0,207.6 580.5,209.6 585.0,210.5 C589.5,211.4 600.3,213.8 604.6,215.7 C608.9,217.6 624.4,226.7 627.9,230.0 C631.4,233.3 638.2,245.1 639.9,248.9 C641.6,252.7 644.6,264.5 645.2,268.4 C645.8,272.3 646.0,284.4 645.7,287.9 C645.4,291.4 642.9,301.1 641.8,303.4 C640.7,305.7 639.2,308.8 635.0,310.5 C630.8,312.2 607.5,317.9 600.0,320.5 C592.5,323.1 568.0,332.9 560.0,336.0 C552.0,339.1 532.3,346.5 520.0,351.4 C507.7,356.2 446.1,381.4 437.0,384.5 C427.9,387.6 430.2,383.2 429.0,382.0 C427.8,380.8 425.8,374.7 424.7,372.1 C423.6,369.5 419.4,359.1 418.0,356.0 C416.6,352.9 412.1,343.5 410.9,341.2 C409.7,338.9 407.1,334.5 406.0,333.0 C404.9,331.5 401.6,327.4 400.0,325.8 C398.4,324.2 392.1,319.0 390.0,317.5 C387.9,316.0 381.0,311.7 378.5,310.4 C376.0,309.1 368.1,305.5 365.0,304.5 C361.9,303.5 351.5,301.2 348.0,300.5 C344.5,299.8 333.3,298.1 330.0,297.5 C326.7,296.9 317.8,294.8 315.0,294.0 C312.2,293.2 303.9,290.4 302.0,289.5 C300.1,288.6 295.7,285.4 295.5,284.5 Z" fill="none" stroke="#161616" stroke-width="2.2"/>
</g>
<path d="M300.0,291.0 C299.4,290.7 303.8,289.8 306.1,288.8 C308.4,287.8 320.1,282.4 323.0,281.1 C325.9,279.8 333.8,276.5 335.3,275.7 C336.8,274.9 337.5,273.4 338.4,273.4 C339.3,273.4 342.3,275.8 344.6,275.3 C346.9,274.8 356.7,269.9 361.5,268.0 C366.3,266.1 387.8,258.3 392.2,256.5 C396.6,254.7 404.2,250.8 406.0,249.6 C407.8,248.4 409.5,244.8 410.6,244.5 C411.7,244.2 412.9,247.6 416.8,246.5 C420.7,245.4 446.2,235.0 450.0,233.5 C453.8,232.0 451.7,233.0 455.0,231.5 C458.3,230.0 480.1,219.9 483.3,218.3 C486.5,216.7 485.8,215.3 487.0,215.2 C488.2,215.1 493.5,217.9 495.6,217.7 C497.7,217.5 505.8,214.0 507.9,213.4 C510.0,212.8 514.9,212.0 516.5,212.1 C518.1,212.2 522.4,214.0 523.9,214.6 C525.4,215.2 527.6,216.5 531.2,217.7 C534.8,218.9 555.1,225.1 560.0,226.5 C564.9,227.9 576.0,230.7 580.0,232.0 C584.0,233.3 596.8,238.0 600.0,239.5 C603.2,241.0 610.1,245.8 612.0,247.0 C613.9,248.2 617.4,249.9 618.5,252.0 C619.6,254.1 622.8,264.8 623.4,268.4 C624.0,272.0 624.5,284.5 624.3,288.0 C624.1,291.5 622.4,301.1 621.4,303.4 C620.4,305.7 616.1,309.7 614.0,311.0 C611.9,312.3 605.4,314.6 600.0,316.5 C594.6,318.4 568.0,327.7 560.0,330.5 C552.0,333.3 532.0,340.1 520.0,344.5 C508.0,348.9 448.6,371.6 440.0,375.0 C431.4,378.4 435.3,378.7 434.0,378.0 C432.7,377.3 428.4,370.6 427.0,368.0 C425.6,365.4 421.4,355.0 420.0,352.0 C418.6,349.0 414.6,340.7 413.0,338.0 C411.4,335.3 406.1,327.4 404.0,325.0 C401.9,322.6 394.6,315.9 392.0,314.0 C389.4,312.1 380.7,307.8 378.0,306.5 C375.3,305.2 368.0,302.4 365.0,301.5 C362.0,300.6 351.5,298.2 348.0,297.5 C344.5,296.8 333.6,295.1 330.0,294.5 C326.4,293.9 315.0,292.4 312.0,292.0 C309.0,291.6 300.6,291.3 300.0,291.0 Z" fill="url(#topSurf)"/>
<g clip-path="url(#inClip)">
<path d="M348.2,297.4 C348.2,297.4 376.0,286.6 376.0,286.6 C376.0,286.6 400.3,292.6 400.3,292.6 C400.3,292.6 424.1,282.8 424.1,282.8 C424.1,282.8 409.3,273.8 409.3,273.8 C409.3,273.8 421.5,266.2 421.5,266.2 C421.5,266.2 439.4,269.5 439.4,269.5 C439.4,269.5 455.6,276.8 455.6,276.8 C455.6,276.8 471.9,285.7 471.9,285.7 C471.9,285.7 485.0,293.0 485.0,293.0 C485.0,293.0 496.0,306.0 496.0,306.0 C496.0,306.0 505.0,319.0 505.0,319.0 C505.0,319.0 510.3,332.0 510.3,332.0 C510.3,332.0 513.0,345.0 513.0,345.0 C513.0,345.0 516.0,362.0 516.0,362.0 C516.0,362.0 446.0,392.0 446.0,392.0 C446.0,392.0 434.0,376.0 434.0,376.0 C434.0,376.0 428.0,358.0 428.0,358.0 C428.0,358.0 421.0,341.0 421.0,341.0 C421.0,341.0 413.0,326.0 413.0,326.0 C413.0,326.0 401.0,313.0 401.0,313.0 C401.0,313.0 386.0,304.0 386.0,304.0 C386.0,304.0 368.0,299.0 368.0,299.0 C368.0,299.0 352.0,297.5 352.0,297.5 C352.0,297.5 348.2,297.4 348.2,297.4 Z" fill="url(#ceramA)"/>
<path d="M468.5,247.4 C468.5,247.4 498.0,237.2 498.0,237.2 C498.0,237.2 523.9,245.6 523.9,245.6 C523.9,245.6 543.5,232.0 543.5,232.0 C543.5,232.0 528.8,223.4 528.8,223.4 C528.8,223.4 531.2,219.0 531.2,219.0 C531.2,219.0 560.0,228.0 560.0,228.0 C560.0,228.0 580.0,233.5 580.0,233.5 C580.0,233.5 600.0,241.0 600.0,241.0 C600.0,241.0 612.0,248.5 612.0,248.5 C612.0,248.5 618.5,253.0 618.5,253.0 C618.5,253.0 623.4,268.4 623.4,268.4 C623.4,268.4 624.3,288.0 624.3,288.0 C624.3,288.0 621.4,303.4 621.4,303.4 C621.4,303.4 614.0,311.0 614.0,311.0 C614.0,311.0 600.0,316.5 600.0,316.5 C600.0,316.5 556.0,350.0 556.0,350.0 C556.0,350.0 553.0,345.0 553.0,345.0 C553.0,345.0 552.5,335.8 552.5,335.8 C552.5,335.8 551.2,325.5 551.2,325.5 C551.2,325.5 548.0,313.8 548.0,313.8 C548.0,313.8 542.7,302.0 542.7,302.0 C542.7,302.0 535.0,290.4 535.0,290.4 C535.0,290.4 524.5,280.0 524.5,280.0 C524.5,280.0 509.1,264.2 509.1,264.2 C509.1,264.2 476.0,248.6 476.0,248.6 C476.0,248.6 468.5,247.4 468.5,247.4 Z" fill="url(#ceramB)"/>
</g>
<g clip-path="url(#inClip)"><rect x="280" y="180" width="380" height="220" fill="url(#speck)" opacity="0.75"/></g>
<g clip-path="url(#inClip)">
<polygon points="306.0,289.8 347.2,294.1 348.2,297.4 306.0,293.2" fill="#e2e2e2"/>
<polygon points="347.2,294.1 370.7,283.3 375.9,286.4 348.2,297.4" fill="#383838"/>
<polygon points="398.7,286.9 422.5,280.3 424.1,282.8 400.3,292.6" fill="#6c6c6c"/>
<polygon points="422.5,280.3 433.1,283.6 426.6,284.4" fill="#151515"/>
<polygon points="400.3,269.7 419.6,263.1 420.0,267.2 400.7,273.4" fill="#7a7a7a"/>
<polygon points="444.0,239.8 467.3,243.1 468.5,247.4 444.0,244.0" fill="#e6e6e6"/>
<polygon points="467.3,243.1 490.7,234.5 498.0,237.2 468.5,247.4" fill="#363636"/>
<polygon points="521.4,241.9 543.5,232.7 546.0,235.7 523.9,245.6" fill="#6c6c6c"/>
<polygon points="543.5,231.4 553.4,233.9 547.2,235.7" fill="#151515"/>
<polygon points="520.2,220.4 528.8,217.9 533.7,221.0 523.9,224.7" fill="#404040"/>
<polyline points="375.9,286.4 400.3,292.6" fill="none" stroke="#222" stroke-width="0.9"/>
<polyline points="424.1,282.8 409.3,273.8" fill="none" stroke="#222" stroke-width="0.9"/>
<polyline points="498.0,237.2 523.9,245.6" fill="none" stroke="#222" stroke-width="0.9"/>
<polyline points="546.0,235.7 528.8,223.4" fill="none" stroke="#222" stroke-width="0.9"/>
<path d="M403.0,251.0 C404.1,253.3 408.3,256.1 409.7,257.4 C411.1,258.7 413.6,261.5 415.0,262.5 C416.4,263.5 418.7,265.4 421.5,266.2 C424.3,267.0 435.4,268.3 439.4,269.5 C443.4,270.7 451.8,274.9 455.6,276.8 C459.4,278.7 468.5,283.8 471.9,285.7 C475.3,287.6 482.2,290.6 485.0,293.0 C487.8,295.4 493.7,303.0 496.0,306.0 C498.3,309.0 503.3,316.0 505.0,319.0 C506.7,322.0 509.4,329.0 510.3,332.0 C511.2,335.0 512.5,341.3 513.0,345.0 C513.5,348.7 509.9,363.5 515.0,364.0 C520.1,364.5 552.3,351.2 557.0,349.0 C561.7,346.8 555.5,346.5 555.0,345.0 C554.5,343.5 552.9,338.1 552.5,335.8 C552.1,333.5 551.7,328.1 551.2,325.5 C550.7,322.9 549.0,316.5 548.0,313.8 C547.0,311.1 544.2,304.7 542.7,302.0 C541.2,299.3 537.1,293.0 535.0,290.4 C532.9,287.8 527.5,283.1 524.5,280.0 C521.5,276.9 514.8,267.9 509.1,264.2 C503.4,260.5 481.5,250.9 476.0,248.6 C470.5,246.3 465.7,245.4 462.0,244.5 C458.3,243.6 446.4,242.4 444.0,240.5 C441.6,238.6 446.1,228.3 441.0,228.0 C435.9,227.7 404.4,235.3 400.0,238.0 C395.6,240.7 401.9,248.7 403.0,251.0 Z" fill="url(#orange)" stroke="#161616" stroke-width="1.1"/>
<path d="M403.0,251.0 C404.1,253.3 408.3,256.1 409.7,257.4 C411.1,258.7 413.6,261.5 415.0,262.5 C416.4,263.5 418.7,265.4 421.5,266.2 C424.3,267.0 435.4,268.3 439.4,269.5 C443.4,270.7 451.8,274.9 455.6,276.8 C459.4,278.7 468.5,283.8 471.9,285.7 C475.3,287.6 482.2,290.6 485.0,293.0 C487.8,295.4 493.7,303.0 496.0,306.0 C498.3,309.0 503.3,316.0 505.0,319.0 C506.7,322.0 509.4,329.0 510.3,332.0 C511.2,335.0 512.5,341.3 513.0,345.0 C513.5,348.7 509.9,363.5 515.0,364.0 C520.1,364.5 552.3,351.2 557.0,349.0 C561.7,346.8 555.5,346.5 555.0,345.0 C554.5,343.5 552.9,338.1 552.5,335.8 C552.1,333.5 551.7,328.1 551.2,325.5 C550.7,322.9 549.0,316.5 548.0,313.8 C547.0,311.1 544.2,304.7 542.7,302.0 C541.2,299.3 537.1,293.0 535.0,290.4 C532.9,287.8 527.5,283.1 524.5,280.0 C521.5,276.9 514.8,267.9 509.1,264.2 C503.4,260.5 481.5,250.9 476.0,248.6 C470.5,246.3 465.7,245.4 462.0,244.5 C458.3,243.6 446.4,242.4 444.0,240.5 C441.6,238.6 446.1,228.3 441.0,228.0 C435.9,227.7 404.4,235.3 400.0,238.0 C395.6,240.7 401.9,248.7 403.0,251.0 Z" fill="url(#mesh)"/>
<path d="M405.6,253.8 C406.3,254.6 408.6,258.5 410.6,259.8 C412.6,261.1 416.9,262.8 420.6,263.8 C424.3,264.8 433.6,266.2 438.2,267.6 C442.8,269.0 450.6,272.5 455.1,274.6 C459.6,276.7 468.0,281.3 472.1,283.5 C476.2,285.7 482.7,288.5 486.1,291.3 C489.5,294.1 494.9,300.8 497.6,304.3 C500.3,307.8 504.7,314.2 506.6,317.8 C508.5,321.4 510.8,327.7 511.9,331.3 C513.0,334.9 514.0,340.9 514.6,344.8 C515.2,348.7 516.3,358.7 516.6,360.8" fill="none" stroke="#e2a45e" stroke-width="2.6"/>
<path d="M407.0,253.0 C407.7,253.8 410.0,257.7 412.0,259.0 C414.0,260.3 418.3,262.0 422.0,263.0 C425.7,264.0 435.0,265.4 439.6,266.8 C444.2,268.2 452.0,271.7 456.5,273.8 C461.0,275.9 469.4,280.5 473.5,282.7 C477.6,284.9 484.1,287.7 487.5,290.5 C490.9,293.3 496.3,300.0 499.0,303.5 C501.7,307.0 506.1,313.4 508.0,317.0 C509.9,320.6 512.2,326.9 513.3,330.5 C514.4,334.1 515.4,340.1 516.0,344.0 C516.6,347.9 517.7,357.9 518.0,360.0" fill="none" stroke="#161616" stroke-width="0.8"/>
<path d="M480.0,250.0 C484.3,252.1 505.7,261.8 512.0,266.0 C518.3,270.2 524.0,278.0 527.5,281.5 C531.0,285.0 536.0,289.1 538.5,292.0 C541.0,294.9 544.3,300.4 546.0,303.5 C547.7,306.6 550.3,311.9 551.5,315.0 C552.7,318.1 554.1,324.1 554.7,327.0 C555.3,329.9 555.7,333.9 556.0,337.0 C556.3,340.1 556.9,348.3 557.0,350.0" fill="none" stroke="#fdfdfd" stroke-width="3.5"/>
<path d="M477.8,250.5 C482.1,252.6 503.5,262.3 509.8,266.5 C516.1,270.7 521.8,278.5 525.3,282.0 C528.8,285.5 533.8,289.6 536.3,292.5 C538.8,295.4 542.1,300.9 543.8,304.0 C545.5,307.1 548.1,312.4 549.3,315.5 C550.5,318.6 551.9,324.6 552.5,327.5 C553.1,330.4 553.5,334.4 553.8,337.5 C554.1,340.6 554.7,348.8 554.8,350.5" fill="none" stroke="#161616" stroke-width="0.8"/>
</g>
<g clip-path="url(#winClip)">
<path d="M302.0,290.0 C302.4,290.3 311.7,292.7 315.0,293.5 C318.3,294.3 326.1,296.2 330.0,297.0 C333.9,297.8 343.9,299.2 348.0,300.0 C352.1,300.8 361.4,302.8 365.0,304.0 C368.6,305.2 375.6,308.5 378.5,310.0 C381.4,311.5 387.5,315.2 390.0,317.0 C392.5,318.8 398.1,323.6 400.0,325.5 C401.9,327.4 404.7,331.2 406.0,333.0 C407.3,334.8 409.5,338.3 410.9,341.0 C412.3,343.7 416.4,352.4 418.0,356.0 C419.6,359.6 423.5,369.1 424.7,372.0 C425.9,374.9 426.8,379.9 428.0,381.0 C429.2,382.1 434.6,382.0 435.0,381.0 C435.4,380.0 432.5,375.0 431.5,372.1 C430.5,369.2 427.8,359.6 426.5,356.0 C425.2,352.4 421.8,343.9 420.5,341.2 C419.2,338.5 416.8,334.9 415.5,333.0 C414.2,331.1 411.5,326.6 409.5,324.5 C407.5,322.4 401.1,316.9 398.5,315.0 C395.9,313.1 390.3,310.1 387.0,308.5 C383.7,306.9 374.1,302.8 370.0,301.5 C365.9,300.2 356.7,298.4 352.0,297.5 C347.3,296.6 334.7,294.8 330.0,294.0 C325.3,293.2 315.3,291.5 312.0,291.0 C308.7,290.5 301.6,289.7 302.0,290.0 Z" fill="#c88640" stroke="#161616" stroke-width="0.9"/>
<path d="M330.0,295.5 C332.4,295.9 343.2,297.6 348.0,298.5 C352.8,299.4 361.6,301.2 366.0,302.5 C370.4,303.8 377.4,306.8 381.0,308.5 C384.6,310.2 390.1,313.5 393.0,315.5 C395.9,317.5 400.7,321.3 403.0,323.5 C405.3,325.7 408.3,329.6 410.0,332.0 C411.7,334.4 413.9,338.0 415.5,341.2 C417.1,344.4 420.6,351.9 422.3,356.0 C424.0,360.1 426.8,368.8 428.0,372.1 C429.2,375.4 431.0,379.8 431.5,381.0" fill="none" stroke="#6a4220" stroke-width="0.8"/>
<path d="M354.0,298.6 C356.1,299.1 365.5,301.0 370.0,302.3 C374.5,303.6 384.1,306.4 388.0,308.0 C391.9,309.6 396.5,312.4 399.5,314.5 C402.5,316.6 408.2,321.5 410.5,324.0 C412.8,326.5 415.5,331.1 417.0,333.5 C418.5,335.9 420.6,339.0 422.0,342.0 C423.4,345.0 426.1,352.5 427.5,356.0 C428.9,359.5 431.4,365.1 432.5,368.0 C433.6,370.9 435.5,376.7 436.0,378.0" fill="none" stroke="#fafafa" stroke-width="4.2"/>
<path d="M356.3,298.0 C358.4,298.5 367.8,300.4 372.3,301.7 C376.8,303.0 386.4,305.8 390.3,307.4 C394.2,309.0 398.8,311.8 401.8,313.9 C404.8,316.0 410.5,320.9 412.8,323.4 C415.1,325.9 417.8,330.5 419.3,332.9 C420.8,335.3 422.9,338.4 424.3,341.4 C425.7,344.4 428.4,351.9 429.8,355.4 C431.2,358.9 433.7,364.5 434.8,367.4 C435.9,370.3 437.8,376.1 438.3,377.4" fill="none" stroke="#555" stroke-width="0.6"/>
</g>
<g clip-path="url(#winClip)"><path d="M300.0,291.0 C300.6,290.8 303.8,289.8 306.1,288.8 C308.4,287.8 320.1,282.4 323.0,281.1 C325.9,279.8 333.8,276.5 335.3,275.7 C336.8,274.9 337.5,273.4 338.4,273.4 C339.3,273.4 342.3,275.8 344.6,275.3 C346.9,274.8 356.7,269.9 361.5,268.0 C366.3,266.1 387.8,258.3 392.2,256.5 C396.6,254.7 404.2,250.8 406.0,249.6 C407.8,248.4 409.5,244.8 410.6,244.5 C411.7,244.2 412.9,247.6 416.8,246.5 C420.7,245.4 446.2,235.0 450.0,233.5 C453.8,232.0 451.7,233.0 455.0,231.5 C458.3,230.0 480.1,219.9 483.3,218.3 C486.5,216.7 485.8,215.3 487.0,215.2 C488.2,215.1 493.5,217.9 495.6,217.7 C497.7,217.5 505.8,214.0 507.9,213.4 C510.0,212.8 514.9,212.0 516.5,212.1 C518.1,212.2 522.4,214.0 523.9,214.6 C525.4,215.2 527.6,216.5 531.2,217.7 C534.8,218.9 555.1,225.1 560.0,226.5 C564.9,227.9 576.0,230.7 580.0,232.0 C584.0,233.3 596.8,238.0 600.0,239.5 C603.2,241.0 610.1,245.8 612.0,247.0 C613.9,248.2 617.4,249.9 618.5,252.0 C619.6,254.1 622.8,264.8 623.4,268.4 C624.0,272.0 624.5,284.5 624.3,288.0 C624.1,291.5 622.4,301.1 621.4,303.4 C620.4,305.7 614.7,310.2 614.0,311.0" fill="none" stroke="#161616" stroke-width="3.2"/><path d="M300.0,291.0 C300.6,290.8 303.8,289.8 306.1,288.8 C308.4,287.8 320.1,282.4 323.0,281.1 C325.9,279.8 333.8,276.5 335.3,275.7 C336.8,274.9 337.5,273.4 338.4,273.4 C339.3,273.4 342.3,275.8 344.6,275.3 C346.9,274.8 356.7,269.9 361.5,268.0 C366.3,266.1 387.8,258.3 392.2,256.5 C396.6,254.7 404.2,250.8 406.0,249.6 C407.8,248.4 409.5,244.8 410.6,244.5 C411.7,244.2 412.9,247.6 416.8,246.5 C420.7,245.4 446.2,235.0 450.0,233.5 C453.8,232.0 451.7,233.0 455.0,231.5 C458.3,230.0 480.1,219.9 483.3,218.3 C486.5,216.7 485.8,215.3 487.0,215.2 C488.2,215.1 493.5,217.9 495.6,217.7 C497.7,217.5 505.8,214.0 507.9,213.4 C510.0,212.8 514.9,212.0 516.5,212.1 C518.1,212.2 522.4,214.0 523.9,214.6 C525.4,215.2 527.6,216.5 531.2,217.7 C534.8,218.9 555.1,225.1 560.0,226.5 C564.9,227.9 578.0,231.4 580.0,232.0" fill="none" stroke="#f4f4f4" stroke-width="1.5"/><path d="M580.0,232.0 C582.0,232.8 596.8,238.0 600.0,239.5 C603.2,241.0 610.1,245.8 612.0,247.0 C613.9,248.2 617.4,249.9 618.5,252.0 C619.6,254.1 622.8,264.8 623.4,268.4 C624.0,272.0 624.5,284.5 624.3,288.0 C624.1,291.5 622.4,301.1 621.4,303.4 C620.4,305.7 614.7,310.2 614.0,311.0" fill="none" stroke="#a4a4ac" stroke-width="1.5"/></g>
<path d="M295.5,284.5 C295.3,283.6 290.4,284.5 300.0,280.5 C309.6,276.5 378.0,250.2 392.0,244.8 C406.0,239.4 431.2,229.8 440.0,226.6 C448.8,223.4 473.0,214.6 480.0,212.5 C487.0,210.4 504.5,206.3 510.0,205.5 C515.5,204.7 530.0,204.3 535.0,204.5 C540.0,204.7 555.0,206.4 560.0,207.0 C565.0,207.6 580.5,209.6 585.0,210.5 C589.5,211.4 600.3,213.8 604.6,215.7 C608.9,217.6 624.4,226.7 627.9,230.0 C631.4,233.3 638.2,245.1 639.9,248.9 C641.6,252.7 644.6,264.5 645.2,268.4 C645.8,272.3 646.0,284.4 645.7,287.9 C645.4,291.4 642.9,301.1 641.8,303.4 C640.7,305.7 639.2,308.8 635.0,310.5 C630.8,312.2 607.5,317.9 600.0,320.5 C592.5,323.1 568.0,332.9 560.0,336.0 C552.0,339.1 532.3,346.5 520.0,351.4 C507.7,356.2 446.1,381.4 437.0,384.5 C427.9,387.6 430.2,383.2 429.0,382.0 C427.8,380.8 425.8,374.7 424.7,372.1 C423.6,369.5 419.4,359.1 418.0,356.0 C416.6,352.9 412.1,343.5 410.9,341.2 C409.7,338.9 407.1,334.5 406.0,333.0 C404.9,331.5 401.6,327.4 400.0,325.8 C398.4,324.2 392.1,319.0 390.0,317.5 C387.9,316.0 381.0,311.7 378.5,310.4 C376.0,309.1 368.1,305.5 365.0,304.5 C361.9,303.5 351.5,301.2 348.0,300.5 C344.5,299.8 333.3,298.1 330.0,297.5 C326.7,296.9 317.8,294.8 315.0,294.0 C312.2,293.2 303.9,290.4 302.0,289.5 C300.1,288.6 295.7,285.4 295.5,284.5 Z" fill="none" stroke="#161616" stroke-width="1.4"/>
<path d="M665.0,264.0 C666.2,262.7 674.2,260.9 676.0,261.0 C677.8,261.1 682.4,263.3 683.0,265.0 C683.6,266.7 682.7,275.9 682.0,278.0 C681.3,280.1 677.4,285.5 676.0,286.0 C674.6,286.5 669.2,284.2 668.0,283.0 C666.8,281.8 664.3,275.9 664.0,274.0 C663.7,272.1 663.8,265.3 665.0,264.0 Z" fill="#c4b4ac" stroke="#161616" stroke-width="1"/>
<path d="M139.7,352.7 C139.8,350.1 139.8,348.8 141.4,347.0 C143.0,345.2 145.2,343.8 149.5,342.2 C153.8,340.6 158.9,337.9 167.3,337.3 C175.7,336.7 191.3,337.8 200.0,338.5 C208.7,339.2 214.9,340.2 219.5,341.4 C224.1,342.5 224.6,342.7 227.6,345.4 C230.6,348.1 233.8,352.3 237.3,357.6 C240.8,362.9 244.9,369.7 248.7,377.0 C252.5,384.3 256.4,393.9 260.0,401.4 C263.6,408.9 266.8,415.6 270.0,422.0 C273.2,428.4 276.3,434.2 279.0,440.0 C281.7,445.8 284.2,451.7 286.0,457.0 C287.8,462.3 289.7,468.2 290.0,472.0 C290.3,475.8 289.5,478.2 288.0,480.0 C286.5,481.8 284.9,481.7 281.0,483.0 C277.1,484.3 268.4,487.0 264.6,488.0 C260.8,489.0 261.3,489.4 258.0,489.0 C254.7,488.6 251.6,486.9 245.0,485.6 C238.4,484.4 226.6,483.4 218.7,481.5 C210.8,479.6 203.4,477.8 197.4,474.1 C191.4,470.4 187.0,465.0 182.6,459.3 C178.2,453.6 174.0,445.4 171.1,439.7 C168.2,434.0 166.7,430.3 165.0,425.0 C163.3,419.7 162.6,413.0 160.8,408.0 C159.0,403.0 156.8,399.9 154.4,395.0 C152.0,390.1 148.5,384.1 146.2,378.7 C143.9,373.3 141.7,366.8 140.6,362.5 C139.5,358.2 139.6,355.3 139.7,352.7 Z" fill="url(#flFace)" stroke="#161616" stroke-width="1.4"/>
<path d="M139.7,352.7 C139.1,352.0 140.1,348.4 141.4,347.0 C142.7,345.6 146.0,343.5 149.5,342.2 C153.0,340.9 160.6,337.8 167.3,337.3 C174.0,336.8 193.0,338.0 200.0,338.5 C207.0,339.0 215.8,340.5 219.5,341.4 C223.2,342.3 225.2,343.2 227.6,345.4 C230.0,347.6 234.5,353.4 237.3,357.6 C240.1,361.8 245.7,371.2 248.7,377.0 C251.7,382.8 257.2,395.4 260.0,401.4 C262.8,407.4 267.5,416.9 270.0,422.0 C272.5,427.1 276.9,435.3 279.0,440.0 C281.1,444.7 284.5,452.7 286.0,457.0 C287.5,461.3 289.7,468.9 290.0,472.0 C290.3,475.1 289.2,478.5 288.0,480.0 C286.8,481.5 284.1,481.9 281.0,483.0 C277.9,484.1 267.7,487.3 264.6,488.0 C261.5,488.7 258.4,489.6 258.0,488.0 C257.6,486.4 261.3,479.1 261.3,475.7 C261.3,472.3 259.2,466.7 258.0,462.6 C256.8,458.5 253.5,449.3 252.0,445.0 C250.5,440.7 248.3,434.5 247.0,430.0 C245.7,425.5 243.9,416.3 242.2,411.2 C240.5,406.1 236.4,397.1 234.0,391.7 C231.6,386.3 227.2,375.1 224.4,370.6 C221.6,366.1 216.3,360.0 213.0,357.6 C209.7,355.2 207.1,354.0 200.0,352.7 C192.9,351.4 167.2,348.1 160.0,348.0 C152.8,347.9 148.7,351.4 146.0,352.0 C143.3,352.6 140.3,353.4 139.7,352.7 Z" fill="url(#flSide)"/>
<path d="M141.0,350.0 C143.5,349.5 152.1,346.5 160.0,346.0 C167.9,345.5 192.9,345.5 200.0,346.0 C207.1,346.5 211.3,349.5 213.0,350.0" fill="none" stroke="#f6f6f6" stroke-width="5" opacity="0.8"/>
<path d="M258.0,488.0 C258.4,486.4 261.3,479.1 261.3,475.7 C261.3,472.3 259.2,466.7 258.0,462.6 C256.8,458.5 253.5,449.3 252.0,445.0 C250.5,440.7 248.3,434.5 247.0,430.0 C245.7,425.5 243.9,416.3 242.2,411.2 C240.5,406.1 236.4,397.1 234.0,391.7 C231.6,386.3 227.2,375.1 224.4,370.6 C221.6,366.1 216.3,360.0 213.0,357.6 C209.7,355.2 201.7,353.4 200.0,352.7" fill="none" stroke="#ffffff" stroke-width="1.6"/>
<ellipse cx="200" cy="412" rx="37" ry="57" transform="rotate(-15 200 412)" fill="#b4b4b8"/>
<ellipse cx="199.5" cy="414" rx="33.5" ry="53" transform="rotate(-15 199.5 414)" fill="#f2f2f2"/>
<ellipse cx="201" cy="413" rx="32" ry="52" transform="rotate(-15 201 413)" fill="url(#opening)" stroke="#1a1a1a" stroke-width="0.8"/>
<ellipse cx="211" cy="411" rx="24" ry="46" transform="rotate(-15 211 411)" fill="#5e5656" opacity="0.6"/>
<ellipse cx="212.5" cy="411" rx="21" ry="43" transform="rotate(-15 212.5 411)" fill="none" stroke="#2a2424" stroke-width="1" opacity="0.6"/>
<ellipse cx="151.9" cy="366.5" rx="7" ry="10" transform="rotate(-15 151.9 366.5)" fill="#3a3a3e"/>
<ellipse cx="152.9" cy="367.5" rx="5.2" ry="8" transform="rotate(-15 151.9 366.5)" fill="#8a8a90"/>
<ellipse cx="153.9" cy="368.0" rx="3.2" ry="5.6" transform="rotate(-15 151.9 366.5)" fill="#2c2c30"/>
<ellipse cx="247" cy="469.3" rx="7" ry="10" transform="rotate(-15 247 469.3)" fill="#3a3a3e"/>
<ellipse cx="248" cy="470.3" rx="5.2" ry="8" transform="rotate(-15 247 469.3)" fill="#8a8a90"/>
<ellipse cx="249" cy="470.8" rx="3.2" ry="5.6" transform="rotate(-15 247 469.3)" fill="#2c2c30"/>
<polygon points="208.5,410.3 150.1,412.4 161.4,421.0 91.7,448.6 112.2,461.0 183.0,433.7 200.3,441.5" fill="url(#redArrow)" stroke="#ffffff" stroke-width="1.2"/>
<ellipse cx="347.9" cy="370.9" rx="27.4" ry="30.4" fill="#171414"/>
<ellipse cx="345.7" cy="371.2" rx="23.4" ry="24.6" fill="url(#sensorDisc2)" stroke="#555" stroke-width="0.8"/>
<ellipse cx="345.7" cy="371.6" rx="17" ry="18" fill="none" stroke="#8a8a8e" stroke-width="0.7"/>
<ellipse cx="345.8" cy="371.8" rx="12.5" ry="13.2" fill="none" stroke="#a0a0a4" stroke-width="0.6"/>
<polygon points="355.0,372.1 350.5,379.7 341.5,379.7 337.0,372.1 341.5,364.5 350.5,364.5" fill="#d0d0d0" stroke="#000" stroke-width="1.1"/>
<polygon points="353.0,372.4 349.5,378.3 342.5,378.3 339.0,372.4 342.5,366.5 349.5,366.5" fill="url(#hexIn)"/>
<polygon points="529.0,299.0 546.0,309.0 630.0,440.0 701.5,424.0 697.0,350.0" fill="url(#cone1)" style="mix-blend-mode:multiply"/>
<circle cx="535.6" cy="304.2" r="8" fill="none" stroke="#fff" stroke-width="1.5"/>
<polygon points="672.0,443.0 674.0,453.0 650.0,474.5 626.5,500.0 592.0,545.5 524.3,505.5 560.8,438.4 630.0,444.7" fill="url(#cone2)" style="mix-blend-mode:multiply"/>
<circle cx="701.5" cy="424" r="70" fill="url(#hcWall)"/>
<g clip-path="url(#hcClip)">
<path d="M615.7,320.8 C617.3,319.6 640.0,328.7 641.5,331.1 C643.1,333.4 643.1,359.1 641.5,360.3 C640.0,361.4 617.3,352.3 615.7,349.9 C614.2,347.6 614.2,321.9 615.7,320.8 Z" fill="url(#cellG)" stroke="#1a0e06" stroke-width="0.9" stroke-linejoin="round"/>
<polygon points="617.2,348.9 640.5,340.4 640.5,359.3" fill="url(#triG)" stroke="#8a6040" stroke-width="0.5"/>
<line x1="617.2" y1="348.9" x2="640.5" y2="340.4" stroke="#e8bc90" stroke-width="1"/>
<path d="M615.7,357.8 C617.3,356.6 640.0,365.7 641.5,368.1 C643.1,370.4 643.1,396.1 641.5,397.3 C640.0,398.4 617.3,389.3 615.7,386.9 C614.2,384.6 614.2,358.9 615.7,357.8 Z" fill="url(#cellG)" stroke="#1a0e06" stroke-width="0.9" stroke-linejoin="round"/>
<polygon points="617.2,385.9 640.5,377.4 640.5,396.3" fill="url(#triG)" stroke="#8a6040" stroke-width="0.5"/>
<line x1="617.2" y1="385.9" x2="640.5" y2="377.4" stroke="#e8bc90" stroke-width="1"/>
<path d="M615.7,394.8 C617.3,393.6 640.0,402.7 641.5,405.1 C643.1,407.4 643.1,433.1 641.5,434.3 C640.0,435.4 617.3,426.3 615.7,423.9 C614.2,421.6 614.2,395.9 615.7,394.8 Z" fill="url(#cellG)" stroke="#1a0e06" stroke-width="0.9" stroke-linejoin="round"/>
<polygon points="617.2,422.9 640.5,414.4 640.5,433.3" fill="url(#triG)" stroke="#8a6040" stroke-width="0.5"/>
<line x1="617.2" y1="422.9" x2="640.5" y2="414.4" stroke="#e8bc90" stroke-width="1"/>
<path d="M615.7,431.8 C617.3,430.6 640.0,439.7 641.5,442.1 C643.1,444.4 643.1,470.1 641.5,471.3 C640.0,472.4 617.3,463.3 615.7,460.9 C614.2,458.6 614.2,432.9 615.7,431.8 Z" fill="url(#cellG)" stroke="#1a0e06" stroke-width="0.9" stroke-linejoin="round"/>
<polygon points="617.2,459.9 640.5,451.4 640.5,470.3" fill="url(#triG)" stroke="#8a6040" stroke-width="0.5"/>
<line x1="617.2" y1="459.9" x2="640.5" y2="451.4" stroke="#e8bc90" stroke-width="1"/>
<path d="M615.7,468.8 C617.3,467.6 640.0,476.7 641.5,479.1 C643.1,481.4 643.1,507.1 641.5,508.3 C640.0,509.4 617.3,500.3 615.7,497.9 C614.2,495.6 614.2,469.9 615.7,468.8 Z" fill="url(#cellG)" stroke="#1a0e06" stroke-width="0.9" stroke-linejoin="round"/>
<polygon points="617.2,496.9 640.5,488.4 640.5,507.3" fill="url(#triG)" stroke="#8a6040" stroke-width="0.5"/>
<line x1="617.2" y1="496.9" x2="640.5" y2="488.4" stroke="#e8bc90" stroke-width="1"/>
<path d="M646.2,332.9 C647.8,331.8 670.5,340.9 672.0,343.3 C673.6,345.6 673.6,371.3 672.0,372.5 C670.5,373.6 647.8,364.5 646.2,362.1 C644.7,359.8 644.7,334.1 646.2,332.9 Z" fill="url(#cellG)" stroke="#1a0e06" stroke-width="0.9" stroke-linejoin="round"/>
<polygon points="647.7,361.1 671.0,352.6 671.0,371.5" fill="url(#triG)" stroke="#8a6040" stroke-width="0.5"/>
<line x1="647.7" y1="361.1" x2="671.0" y2="352.6" stroke="#e8bc90" stroke-width="1"/>
<path d="M646.2,369.9 C647.8,368.8 670.5,377.9 672.0,380.3 C673.6,382.6 673.6,408.3 672.0,409.5 C670.5,410.6 647.8,401.5 646.2,399.1 C644.7,396.8 644.7,371.1 646.2,369.9 Z" fill="url(#cellG)" stroke="#1a0e06" stroke-width="0.9" stroke-linejoin="round"/>
<polygon points="647.7,398.1 671.0,389.6 671.0,408.5" fill="url(#triG)" stroke="#8a6040" stroke-width="0.5"/>
<line x1="647.7" y1="398.1" x2="671.0" y2="389.6" stroke="#e8bc90" stroke-width="1"/>
<path d="M646.2,406.9 C647.8,405.8 670.5,414.9 672.0,417.3 C673.6,419.6 673.6,445.3 672.0,446.5 C670.5,447.6 647.8,438.5 646.2,436.1 C644.7,433.8 644.7,408.1 646.2,406.9 Z" fill="url(#cellG)" stroke="#1a0e06" stroke-width="0.9" stroke-linejoin="round"/>
<polygon points="647.7,435.1 671.0,426.6 671.0,445.5" fill="url(#triG)" stroke="#8a6040" stroke-width="0.5"/>
<line x1="647.7" y1="435.1" x2="671.0" y2="426.6" stroke="#e8bc90" stroke-width="1"/>
<path d="M646.2,443.9 C647.8,442.8 670.5,451.9 672.0,454.3 C673.6,456.6 673.6,482.3 672.0,483.5 C670.5,484.6 647.8,475.5 646.2,473.1 C644.7,470.8 644.7,445.1 646.2,443.9 Z" fill="url(#cellG)" stroke="#1a0e06" stroke-width="0.9" stroke-linejoin="round"/>
<polygon points="647.7,472.1 671.0,463.6 671.0,482.5" fill="url(#triG)" stroke="#8a6040" stroke-width="0.5"/>
<line x1="647.7" y1="472.1" x2="671.0" y2="463.6" stroke="#e8bc90" stroke-width="1"/>
<path d="M646.2,480.9 C647.8,479.8 670.5,488.9 672.0,491.3 C673.6,493.6 673.6,519.3 672.0,520.5 C670.5,521.6 647.8,512.5 646.2,510.1 C644.7,507.8 644.7,482.1 646.2,480.9 Z" fill="url(#cellG)" stroke="#1a0e06" stroke-width="0.9" stroke-linejoin="round"/>
<polygon points="647.7,509.1 671.0,500.6 671.0,519.5" fill="url(#triG)" stroke="#8a6040" stroke-width="0.5"/>
<line x1="647.7" y1="509.1" x2="671.0" y2="500.6" stroke="#e8bc90" stroke-width="1"/>
<path d="M676.7,308.1 C678.3,307.0 701.0,316.1 702.5,318.5 C704.1,320.8 704.1,346.5 702.5,347.7 C701.0,348.8 678.3,339.7 676.7,337.3 C675.2,335.0 675.2,309.3 676.7,308.1 Z" fill="url(#cellG)" stroke="#1a0e06" stroke-width="0.9" stroke-linejoin="round"/>
<polygon points="678.2,336.3 701.5,327.8 701.5,346.7" fill="url(#triG)" stroke="#8a6040" stroke-width="0.5"/>
<line x1="678.2" y1="336.3" x2="701.5" y2="327.8" stroke="#e8bc90" stroke-width="1"/>
<path d="M676.7,345.1 C678.3,344.0 701.0,353.1 702.5,355.5 C704.1,357.8 704.1,383.5 702.5,384.7 C701.0,385.8 678.3,376.7 676.7,374.3 C675.2,372.0 675.2,346.3 676.7,345.1 Z" fill="url(#cellG)" stroke="#1a0e06" stroke-width="0.9" stroke-linejoin="round"/>
<polygon points="678.2,373.3 701.5,364.8 701.5,383.7" fill="url(#triG)" stroke="#8a6040" stroke-width="0.5"/>
<line x1="678.2" y1="373.3" x2="701.5" y2="364.8" stroke="#e8bc90" stroke-width="1"/>
<path d="M676.7,382.1 C678.3,381.0 701.0,390.1 702.5,392.5 C704.1,394.8 704.1,420.5 702.5,421.7 C701.0,422.8 678.3,413.7 676.7,411.3 C675.2,409.0 675.2,383.3 676.7,382.1 Z" fill="url(#cellG)" stroke="#1a0e06" stroke-width="0.9" stroke-linejoin="round"/>
<polygon points="678.2,410.3 701.5,401.8 701.5,420.7" fill="url(#triG)" stroke="#8a6040" stroke-width="0.5"/>
<line x1="678.2" y1="410.3" x2="701.5" y2="401.8" stroke="#e8bc90" stroke-width="1"/>
<path d="M676.7,419.1 C678.3,418.0 701.0,427.1 702.5,429.5 C704.1,431.8 704.1,457.5 702.5,458.7 C701.0,459.8 678.3,450.7 676.7,448.3 C675.2,446.0 675.2,420.3 676.7,419.1 Z" fill="url(#cellG)" stroke="#1a0e06" stroke-width="0.9" stroke-linejoin="round"/>
<polygon points="678.2,447.3 701.5,438.8 701.5,457.7" fill="url(#triG)" stroke="#8a6040" stroke-width="0.5"/>
<line x1="678.2" y1="447.3" x2="701.5" y2="438.8" stroke="#e8bc90" stroke-width="1"/>
<path d="M676.7,456.1 C678.3,455.0 701.0,464.1 702.5,466.5 C704.1,468.8 704.1,494.5 702.5,495.7 C701.0,496.8 678.3,487.7 676.7,485.3 C675.2,483.0 675.2,457.3 676.7,456.1 Z" fill="url(#cellG)" stroke="#1a0e06" stroke-width="0.9" stroke-linejoin="round"/>
<polygon points="678.2,484.3 701.5,475.8 701.5,494.7" fill="url(#triG)" stroke="#8a6040" stroke-width="0.5"/>
<line x1="678.2" y1="484.3" x2="701.5" y2="475.8" stroke="#e8bc90" stroke-width="1"/>
<path d="M676.7,493.1 C678.3,492.0 701.0,501.1 702.5,503.5 C704.1,505.8 704.1,531.5 702.5,532.7 C701.0,533.8 678.3,524.7 676.7,522.4 C675.2,520.0 675.2,494.3 676.7,493.1 Z" fill="url(#cellG)" stroke="#1a0e06" stroke-width="0.9" stroke-linejoin="round"/>
<polygon points="678.2,521.4 701.5,512.8 701.5,531.7" fill="url(#triG)" stroke="#8a6040" stroke-width="0.5"/>
<line x1="678.2" y1="521.4" x2="701.5" y2="512.8" stroke="#e8bc90" stroke-width="1"/>
<path d="M707.2,320.3 C708.8,319.2 731.5,328.3 733.0,330.7 C734.6,333.0 734.6,358.7 733.0,359.9 C731.5,361.0 708.8,351.9 707.2,349.5 C705.7,347.2 705.7,321.5 707.2,320.3 Z" fill="url(#cellG)" stroke="#1a0e06" stroke-width="0.9" stroke-linejoin="round"/>
<polygon points="708.7,348.5 732.0,340.0 732.0,358.9" fill="url(#triG)" stroke="#8a6040" stroke-width="0.5"/>
<line x1="708.7" y1="348.5" x2="732.0" y2="340.0" stroke="#e8bc90" stroke-width="1"/>
<path d="M707.2,357.3 C708.8,356.2 731.5,365.3 733.0,367.7 C734.6,370.0 734.6,395.7 733.0,396.9 C731.5,398.0 708.8,388.9 707.2,386.5 C705.7,384.2 705.7,358.5 707.2,357.3 Z" fill="url(#cellG)" stroke="#1a0e06" stroke-width="0.9" stroke-linejoin="round"/>
<polygon points="708.7,385.5 732.0,377.0 732.0,395.9" fill="url(#triG)" stroke="#8a6040" stroke-width="0.5"/>
<line x1="708.7" y1="385.5" x2="732.0" y2="377.0" stroke="#e8bc90" stroke-width="1"/>
<path d="M707.2,394.3 C708.8,393.2 731.5,402.3 733.0,404.7 C734.6,407.0 734.6,432.7 733.0,433.9 C731.5,435.0 708.8,425.9 707.2,423.5 C705.7,421.2 705.7,395.5 707.2,394.3 Z" fill="url(#cellG)" stroke="#1a0e06" stroke-width="0.9" stroke-linejoin="round"/>
<polygon points="708.7,422.5 732.0,414.0 732.0,432.9" fill="url(#triG)" stroke="#8a6040" stroke-width="0.5"/>
<line x1="708.7" y1="422.5" x2="732.0" y2="414.0" stroke="#e8bc90" stroke-width="1"/>
<path d="M707.2,431.3 C708.8,430.2 731.5,439.3 733.0,441.7 C734.6,444.0 734.6,469.7 733.0,470.9 C731.5,472.0 708.8,462.9 707.2,460.5 C705.7,458.2 705.7,432.5 707.2,431.3 Z" fill="url(#cellG)" stroke="#1a0e06" stroke-width="0.9" stroke-linejoin="round"/>
<polygon points="708.7,459.5 732.0,451.0 732.0,469.9" fill="url(#triG)" stroke="#8a6040" stroke-width="0.5"/>
<line x1="708.7" y1="459.5" x2="732.0" y2="451.0" stroke="#e8bc90" stroke-width="1"/>
<path d="M707.2,468.3 C708.8,467.2 731.5,476.3 733.0,478.7 C734.6,481.0 734.6,506.7 733.0,507.9 C731.5,509.0 708.8,499.9 707.2,497.5 C705.7,495.2 705.7,469.5 707.2,468.3 Z" fill="url(#cellG)" stroke="#1a0e06" stroke-width="0.9" stroke-linejoin="round"/>
<polygon points="708.7,496.5 732.0,488.0 732.0,506.9" fill="url(#triG)" stroke="#8a6040" stroke-width="0.5"/>
<line x1="708.7" y1="496.5" x2="732.0" y2="488.0" stroke="#e8bc90" stroke-width="1"/>
<path d="M737.7,332.6 C739.3,331.4 762.0,340.5 763.5,342.9 C765.1,345.2 765.1,370.9 763.5,372.1 C762.0,373.2 739.3,364.1 737.7,361.8 C736.2,359.4 736.2,333.7 737.7,332.6 Z" fill="url(#cellG)" stroke="#1a0e06" stroke-width="0.9" stroke-linejoin="round"/>
<polygon points="739.2,360.8 762.5,352.2 762.5,371.1" fill="url(#triG)" stroke="#8a6040" stroke-width="0.5"/>
<line x1="739.2" y1="360.8" x2="762.5" y2="352.2" stroke="#e8bc90" stroke-width="1"/>
<path d="M737.7,369.6 C739.3,368.4 762.0,377.5 763.5,379.9 C765.1,382.2 765.1,407.9 763.5,409.1 C762.0,410.2 739.3,401.1 737.7,398.8 C736.2,396.4 736.2,370.7 737.7,369.6 Z" fill="url(#cellG)" stroke="#1a0e06" stroke-width="0.9" stroke-linejoin="round"/>
<polygon points="739.2,397.8 762.5,389.2 762.5,408.1" fill="url(#triG)" stroke="#8a6040" stroke-width="0.5"/>
<line x1="739.2" y1="397.8" x2="762.5" y2="389.2" stroke="#e8bc90" stroke-width="1"/>
<path d="M737.7,406.6 C739.3,405.4 762.0,414.5 763.5,416.9 C765.1,419.2 765.1,444.9 763.5,446.1 C762.0,447.2 739.3,438.1 737.7,435.8 C736.2,433.4 736.2,407.7 737.7,406.6 Z" fill="url(#cellG)" stroke="#1a0e06" stroke-width="0.9" stroke-linejoin="round"/>
<polygon points="739.2,434.8 762.5,426.2 762.5,445.1" fill="url(#triG)" stroke="#8a6040" stroke-width="0.5"/>
<line x1="739.2" y1="434.8" x2="762.5" y2="426.2" stroke="#e8bc90" stroke-width="1"/>
<path d="M737.7,443.6 C739.3,442.4 762.0,451.5 763.5,453.9 C765.1,456.2 765.1,481.9 763.5,483.1 C762.0,484.2 739.3,475.1 737.7,472.8 C736.2,470.4 736.2,444.7 737.7,443.6 Z" fill="url(#cellG)" stroke="#1a0e06" stroke-width="0.9" stroke-linejoin="round"/>
<polygon points="739.2,471.8 762.5,463.2 762.5,482.1" fill="url(#triG)" stroke="#8a6040" stroke-width="0.5"/>
<line x1="739.2" y1="471.8" x2="762.5" y2="463.2" stroke="#e8bc90" stroke-width="1"/>
<path d="M737.7,480.6 C739.3,479.4 762.0,488.5 763.5,490.9 C765.1,493.2 765.1,518.9 763.5,520.1 C762.0,521.2 739.3,512.1 737.7,509.8 C736.2,507.4 736.2,481.7 737.7,480.6 Z" fill="url(#cellG)" stroke="#1a0e06" stroke-width="0.9" stroke-linejoin="round"/>
<polygon points="739.2,508.8 762.5,500.2 762.5,519.1" fill="url(#triG)" stroke="#8a6040" stroke-width="0.5"/>
<line x1="739.2" y1="508.8" x2="762.5" y2="500.2" stroke="#e8bc90" stroke-width="1"/>
<path d="M768.2,307.8 C769.8,306.6 792.5,315.7 794.0,318.1 C795.6,320.4 795.6,346.1 794.0,347.3 C792.5,348.4 769.8,339.3 768.2,336.9 C766.7,334.6 766.7,308.9 768.2,307.8 Z" fill="url(#cellG)" stroke="#1a0e06" stroke-width="0.9" stroke-linejoin="round"/>
<polygon points="769.7,335.9 793.0,327.4 793.0,346.3" fill="url(#triG)" stroke="#8a6040" stroke-width="0.5"/>
<line x1="769.7" y1="335.9" x2="793.0" y2="327.4" stroke="#e8bc90" stroke-width="1"/>
<path d="M768.2,344.8 C769.8,343.6 792.5,352.7 794.0,355.1 C795.6,357.4 795.6,383.1 794.0,384.3 C792.5,385.4 769.8,376.3 768.2,373.9 C766.7,371.6 766.7,345.9 768.2,344.8 Z" fill="url(#cellG)" stroke="#1a0e06" stroke-width="0.9" stroke-linejoin="round"/>
<polygon points="769.7,372.9 793.0,364.4 793.0,383.3" fill="url(#triG)" stroke="#8a6040" stroke-width="0.5"/>
<line x1="769.7" y1="372.9" x2="793.0" y2="364.4" stroke="#e8bc90" stroke-width="1"/>
<path d="M768.2,381.8 C769.8,380.6 792.5,389.7 794.0,392.1 C795.6,394.4 795.6,420.1 794.0,421.3 C792.5,422.4 769.8,413.3 768.2,410.9 C766.7,408.6 766.7,382.9 768.2,381.8 Z" fill="url(#cellG)" stroke="#1a0e06" stroke-width="0.9" stroke-linejoin="round"/>
<polygon points="769.7,409.9 793.0,401.4 793.0,420.3" fill="url(#triG)" stroke="#8a6040" stroke-width="0.5"/>
<line x1="769.7" y1="409.9" x2="793.0" y2="401.4" stroke="#e8bc90" stroke-width="1"/>
<path d="M768.2,418.8 C769.8,417.6 792.5,426.7 794.0,429.1 C795.6,431.4 795.6,457.1 794.0,458.3 C792.5,459.4 769.8,450.3 768.2,447.9 C766.7,445.6 766.7,419.9 768.2,418.8 Z" fill="url(#cellG)" stroke="#1a0e06" stroke-width="0.9" stroke-linejoin="round"/>
<polygon points="769.7,446.9 793.0,438.4 793.0,457.3" fill="url(#triG)" stroke="#8a6040" stroke-width="0.5"/>
<line x1="769.7" y1="446.9" x2="793.0" y2="438.4" stroke="#e8bc90" stroke-width="1"/>
<path d="M768.2,455.8 C769.8,454.6 792.5,463.7 794.0,466.1 C795.6,468.4 795.6,494.1 794.0,495.3 C792.5,496.4 769.8,487.3 768.2,484.9 C766.7,482.6 766.7,456.9 768.2,455.8 Z" fill="url(#cellG)" stroke="#1a0e06" stroke-width="0.9" stroke-linejoin="round"/>
<polygon points="769.7,483.9 793.0,475.4 793.0,494.3" fill="url(#triG)" stroke="#8a6040" stroke-width="0.5"/>
<line x1="769.7" y1="483.9" x2="793.0" y2="475.4" stroke="#e8bc90" stroke-width="1"/>
<path d="M768.2,492.8 C769.8,491.6 792.5,500.7 794.0,503.1 C795.6,505.4 795.6,531.1 794.0,532.3 C792.5,533.4 769.8,524.3 768.2,522.0 C766.7,519.6 766.7,493.9 768.2,492.8 Z" fill="url(#cellG)" stroke="#1a0e06" stroke-width="0.9" stroke-linejoin="round"/>
<polygon points="769.7,521.0 793.0,512.4 793.0,531.3" fill="url(#triG)" stroke="#8a6040" stroke-width="0.5"/>
<line x1="769.7" y1="521.0" x2="793.0" y2="512.4" stroke="#e8bc90" stroke-width="1"/>
</g>
<circle cx="701.5" cy="424" r="70" fill="none" stroke="#14a4de" stroke-width="4.2"/>
<polygon points="672.0,443.0 674.0,453.0 650.0,474.5 626.5,500.0 592.0,545.5 524.3,505.5 560.8,438.4 630.0,444.7" fill="#a8d8f0" opacity="0.5" clip-path="url(#hcClip)" style="mix-blend-mode:multiply"/>
<circle cx="678" cy="448" r="7.5" fill="none" stroke="#fff" stroke-width="1.5"/>
<circle cx="524.3" cy="505.5" r="70" fill="url(#tan)"/>
<g clip-path="url(#rcClip)">
<path d="M501,430 L502,478 L505,506 L512,515 L547,532 L578,546 L610,560 L610,420 Z" fill="url(#darkBrown)"/>
<path d="M511,512 L588,480 L600,476 L600,560 L578,546 L547,532 Z" fill="#6a4226"/>
<path d="M511,512 L530,505 L546,520 L530,522 Z" fill="#8a5a36" opacity="0.8"/>
<path d="M511,512 L600,476" stroke="#9a6a44" stroke-width="2.4"/>
<path d="M470,560 Q500,520 508,512 Q540,535 580,548 L560,580 L470,580 Z" fill="#e0a070" opacity="0.35" filter="url(#blur4)"/>
<path d="M483.2,469.5l1.6,2.1M487.6,518.0l1.8,1.9M522.1,538.2l-0.5,2.6M534.2,546.7l2.5,0.9M493.0,545.0l-0.1,2.6M535.1,543.2l-2.5,0.7M490.4,514.1l-2.6,0.5M470.0,497.1l2.5,0.6M551.1,546.7l-2.5,0.8M474.9,536.8l-1.3,2.3M499.1,537.7l2.6,0.2M467.5,471.5l2.6,0.3M471.2,494.2l-2.5,0.7M536.4,534.6l2.5,0.7M471.1,509.4l1.9,1.8M480.0,501.8l-2.5,0.5M527.0,532.7l-2.6,0.1M502.7,553.7l-1.6,2.1M487.8,475.5l0.3,2.6M475.3,497.6l1.8,1.9M486.5,517.9l-0.2,2.6M558.0,560.5l0.9,2.4M474.1,538.0l-1.1,2.3M560.6,550.8l2.4,1.1M491.3,538.8l2.1,1.6M522.9,532.1l-1.9,1.7M489.6,540.8l1.5,2.1M483.2,517.3l2.3,1.1M529.6,571.1l2.4,1.1M472.8,482.9l1.4,2.2M563.1,554.7l2.4,1.0M488.9,471.5l-0.1,2.6M480.1,487.1l-2.6,0.4M545.4,565.4l-2.6,0.5M533.3,537.3l2.6,0.4M496.1,540.2l-2.6,0.2M490.5,528.1l1.5,2.1M487.4,470.5l-0.6,2.5M470.6,506.0l-1.0,2.4M492.1,469.0l0.8,2.5M518.0,571.3l-2.3,1.2M509.9,567.4l-2.2,1.4M488.8,448.8l2.3,1.2M529.3,531.9l-2.6,0.5M497.0,451.6l1.8,1.8M496.6,499.8l-2.6,0.3M547.4,561.1l0.2,2.6M486.7,468.8l-2.6,0.3M490.1,529.8l-2.5,0.6M484.8,543.3l1.6,2.1M479.7,465.4l0.7,2.5M473.7,490.1l2.0,1.6M510.2,563.2l-2.4,0.9M493.4,484.0l-2.6,0.4M482.7,484.7l-2.2,1.4M459.3,501.7l1.0,2.4M505.9,563.1l2.6,0.2M512.8,550.7l-1.9,1.7M490.0,541.4l-2.5,0.8M490.8,536.9l1.4,2.2M545.8,569.8l2.6,0.2M486.6,501.9l-2.6,0.4M489.2,495.3l0.1,2.6M481.2,542.2l1.9,1.8M525.8,535.9l0.4,2.6M486.7,493.4l-1.0,2.4M551.8,541.5l-2.3,1.2M488.6,468.6l2.3,1.2M486.2,550.2l-1.2,2.3M522.3,551.8l-2.3,1.2M495.5,450.3l2.2,1.5M490.5,545.8l-2.6,0.4M467.7,519.4l-1.0,2.4M484.2,486.5l2.3,1.1M482.2,470.0l-0.8,2.5M476.2,533.8l0.7,2.5M493.9,477.6l-2.6,0.4M498.2,515.1l1.1,2.3M513.6,558.3l-2.6,0.0M514.7,552.0l0.8,2.5M493.9,508.6l-2.5,0.6M468.1,504.1l-2.1,1.5M509.4,564.1l-1.0,2.4M511.9,555.7l-2.2,1.3M479.1,464.6l0.8,2.5M470.2,468.8l-1.7,2.0M535.2,542.8l2.6,0.3M515.0,528.5l0.4,2.6M486.8,543.7l-2.0,1.7M471.0,495.4l2.5,0.7M460.0,506.1l1.0,2.4M560.3,551.2l2.1,1.5M476.4,547.3l-2.5,0.6M461.7,483.9l-1.9,1.8M492.7,551.3l2.3,1.1M526.3,566.4l2.1,1.6M490.9,506.4l1.4,2.2M552.6,562.8l2.2,1.3M505.2,559.6l-0.4,2.6M537.8,561.0l2.5,0.8M510.3,548.7l1.8,1.9M505.3,543.9l0.5,2.6M478.2,540.8l2.6,0.4M527.9,562.9l2.4,1.0M485.6,527.7l2.6,0.2M467.7,484.8l2.0,1.7M482.2,523.5l0.2,2.6M488.1,454.7l2.5,0.8M546.5,559.3l-2.0,1.6M458.5,510.1l0.8,2.5M533.5,569.4l2.3,1.1M481.5,521.2l-0.1,2.6M547.0,550.9l2.2,1.4M501.7,541.7l-1.5,2.1M491.4,513.3l0.5,2.5M491.3,526.1l-2.6,0.3M486.9,540.9l-2.6,0.4M521.5,554.8l-1.5,2.1" stroke="#4a2c14" stroke-width="0.65" fill="none"/>
<circle cx="552.0" cy="531.8" r="3.2" fill="url(#grayBall)" stroke="#222" stroke-width="0.4"/>
<circle cx="535.8" cy="528.2" r="3.2" fill="url(#grayBall)" stroke="#222" stroke-width="0.4"/>
<circle cx="518.0" cy="515.6" r="3.2" fill="url(#grayBall)" stroke="#222" stroke-width="0.4"/>
<circle cx="512.9" cy="509.4" r="3.2" fill="url(#grayBall)" stroke="#222" stroke-width="0.4"/>
<circle cx="551.0" cy="532.2" r="3.2" fill="url(#grayBall)" stroke="#222" stroke-width="0.4"/>
<circle cx="504.4" cy="458.4" r="3.2" fill="url(#grayBall)" stroke="#222" stroke-width="0.4"/>
<circle cx="545.8" cy="529.1" r="3.2" fill="url(#grayBall)" stroke="#222" stroke-width="0.4"/>
<circle cx="510.3" cy="509.7" r="3.2" fill="url(#grayBall)" stroke="#222" stroke-width="0.4"/>
<circle cx="504.2" cy="470.9" r="3.2" fill="url(#grayBall)" stroke="#222" stroke-width="0.4"/>
<circle cx="570.3" cy="545.8" r="3.2" fill="url(#grayBall)" stroke="#222" stroke-width="0.4"/>
<circle cx="505.0" cy="439.3" r="3.2" fill="url(#grayBall)" stroke="#222" stroke-width="0.4"/>
<circle cx="575.4" cy="543.3" r="3.2" fill="url(#grayBall)" stroke="#222" stroke-width="0.4"/>
<circle cx="523.6" cy="525.4" r="3.2" fill="url(#grayBall)" stroke="#222" stroke-width="0.4"/>
<circle cx="501.9" cy="479.3" r="3.2" fill="url(#grayBall)" stroke="#222" stroke-width="0.4"/>
<circle cx="499.2" cy="447.5" r="3.2" fill="url(#grayBall)" stroke="#222" stroke-width="0.4"/>
<circle cx="505.7" cy="494.6" r="3.2" fill="url(#grayBall)" stroke="#222" stroke-width="0.4"/>
<circle cx="504.2" cy="466.6" r="3.2" fill="url(#grayBall)" stroke="#222" stroke-width="0.4"/>
<circle cx="574.3" cy="546.1" r="3.2" fill="url(#grayBall)" stroke="#222" stroke-width="0.4"/>
<circle cx="513.4" cy="517.9" r="3.2" fill="url(#grayBall)" stroke="#222" stroke-width="0.4"/>
<circle cx="553.1" cy="535.6" r="3.2" fill="url(#grayBall)" stroke="#222" stroke-width="0.4"/>
<circle cx="583.8" cy="542.2" r="3.2" fill="url(#grayBall)" stroke="#222" stroke-width="0.4"/>
<circle cx="504.2" cy="473.7" r="3.2" fill="url(#grayBall)" stroke="#222" stroke-width="0.4"/>
<circle cx="517.8" cy="520.8" r="3.2" fill="url(#grayBall)" stroke="#222" stroke-width="0.4"/>
<circle cx="503.8" cy="494.3" r="3.2" fill="url(#grayBall)" stroke="#222" stroke-width="0.4"/>
<circle cx="504.3" cy="444.0" r="3.2" fill="url(#grayBall)" stroke="#222" stroke-width="0.4"/>
<circle cx="497.9" cy="431.9" r="3.2" fill="url(#grayBall)" stroke="#222" stroke-width="0.4"/>
<circle cx="515.4" cy="521.9" r="3.2" fill="url(#grayBall)" stroke="#222" stroke-width="0.4"/>
<circle cx="553.3" cy="531.3" r="3.2" fill="url(#grayBall)" stroke="#222" stroke-width="0.4"/>
<circle cx="505.6" cy="454.0" r="3.2" fill="url(#grayBall)" stroke="#222" stroke-width="0.4"/>
<circle cx="500.6" cy="443.0" r="3.2" fill="url(#grayBall)" stroke="#222" stroke-width="0.4"/>
<circle cx="525.9" cy="523.1" r="3.2" fill="url(#grayBall)" stroke="#222" stroke-width="0.4"/>
<circle cx="562.9" cy="541.3" r="3.2" fill="url(#grayBall)" stroke="#222" stroke-width="0.4"/>
<circle cx="557.5" cy="533.1" r="3.2" fill="url(#grayBall)" stroke="#222" stroke-width="0.4"/>
<circle cx="503.3" cy="470.2" r="3.2" fill="url(#grayBall)" stroke="#222" stroke-width="0.4"/>
<circle cx="579.4" cy="548.1" r="3.2" fill="url(#grayBall)" stroke="#222" stroke-width="0.4"/>
<circle cx="536.2" cy="526.3" r="3.2" fill="url(#grayBall)" stroke="#222" stroke-width="0.4"/>
<circle cx="543.4" cy="531.6" r="3.2" fill="url(#grayBall)" stroke="#222" stroke-width="0.4"/>
<circle cx="561.9" cy="537.1" r="3.2" fill="url(#grayBall)" stroke="#222" stroke-width="0.4"/>
<circle cx="563.4" cy="543.0" r="3.2" fill="url(#grayBall)" stroke="#222" stroke-width="0.4"/>
<circle cx="568.8" cy="540.0" r="3.2" fill="url(#grayBall)" stroke="#222" stroke-width="0.4"/>
<circle cx="498.6" cy="451.7" r="3.2" fill="url(#grayBall)" stroke="#222" stroke-width="0.4"/>
<circle cx="564.1" cy="540.6" r="3.2" fill="url(#grayBall)" stroke="#222" stroke-width="0.4"/>
<circle cx="501.0" cy="480.6" r="3.2" fill="url(#grayBall)" stroke="#222" stroke-width="0.4"/>
<circle cx="506.0" cy="493.0" r="3.2" fill="url(#grayBall)" stroke="#222" stroke-width="0.4"/>
<circle cx="573.5" cy="540.6" r="3.2" fill="url(#grayBall)" stroke="#222" stroke-width="0.4"/>
<circle cx="553.5" cy="537.5" r="3.2" fill="url(#grayBall)" stroke="#222" stroke-width="0.4"/>
<circle cx="573.1" cy="539.0" r="3.2" fill="url(#grayBall)" stroke="#222" stroke-width="0.4"/>
<circle cx="538.3" cy="528.8" r="3.2" fill="url(#grayBall)" stroke="#222" stroke-width="0.4"/>
<circle cx="546.1" cy="527.1" r="3.2" fill="url(#grayBall)" stroke="#222" stroke-width="0.4"/>
<circle cx="499.7" cy="453.3" r="3.2" fill="url(#grayBall)" stroke="#222" stroke-width="0.4"/>
<circle cx="535.1" cy="528.0" r="3.2" fill="url(#grayBall)" stroke="#222" stroke-width="0.4"/>
<circle cx="582.9" cy="542.5" r="3.2" fill="url(#grayBall)" stroke="#222" stroke-width="0.4"/>
<circle cx="515.3" cy="514.6" r="3.2" fill="url(#grayBall)" stroke="#222" stroke-width="0.4"/>
<circle cx="504.5" cy="436.7" r="3.2" fill="url(#grayBall)" stroke="#222" stroke-width="0.4"/>
<circle cx="589.9" cy="550.2" r="3.2" fill="url(#grayBall)" stroke="#222" stroke-width="0.4"/>
<circle cx="517.1" cy="519.6" r="3.2" fill="url(#grayBall)" stroke="#222" stroke-width="0.4"/>
<circle cx="558.5" cy="541.8" r="3.2" fill="url(#grayBall)" stroke="#222" stroke-width="0.4"/>
<circle cx="502.9" cy="472.8" r="3.2" fill="url(#grayBall)" stroke="#222" stroke-width="0.4"/>
<circle cx="579.1" cy="542.7" r="3.2" fill="url(#grayBall)" stroke="#222" stroke-width="0.4"/>
<circle cx="571.9" cy="542.0" r="3.2" fill="url(#grayBall)" stroke="#222" stroke-width="0.4"/>
<circle cx="504.7" cy="479.2" r="3.2" fill="url(#grayBall)" stroke="#222" stroke-width="0.4"/>
<circle cx="505.9" cy="498.9" r="3.2" fill="url(#grayBall)" stroke="#222" stroke-width="0.4"/>
<circle cx="499.5" cy="478.3" r="3.2" fill="url(#grayBall)" stroke="#222" stroke-width="0.4"/>
<circle cx="502.9" cy="499.6" r="3.2" fill="url(#grayBall)" stroke="#222" stroke-width="0.4"/>
<circle cx="500.6" cy="480.0" r="3.2" fill="url(#grayBall)" stroke="#222" stroke-width="0.4"/>
<circle cx="506.0" cy="510.6" r="3.2" fill="url(#grayBall)" stroke="#222" stroke-width="0.4"/>
<circle cx="567.4" cy="539.8" r="3.2" fill="url(#grayBall)" stroke="#222" stroke-width="0.4"/>
<circle cx="503.8" cy="443.2" r="3.2" fill="url(#grayBall)" stroke="#222" stroke-width="0.4"/>
<circle cx="540.2" cy="527.8" r="3.2" fill="url(#grayBall)" stroke="#222" stroke-width="0.4"/>
<circle cx="529.6" cy="526.1" r="3.2" fill="url(#grayBall)" stroke="#222" stroke-width="0.4"/>
<circle cx="563.7" cy="541.7" r="3.2" fill="url(#grayBall)" stroke="#222" stroke-width="0.4"/>
<circle cx="518.7" cy="518.8" r="3.2" fill="url(#grayBall)" stroke="#222" stroke-width="0.4"/>
<circle cx="503.1" cy="454.1" r="3.2" fill="url(#grayBall)" stroke="#222" stroke-width="0.4"/>
<circle cx="498.2" cy="470.5" r="3.2" fill="url(#grayBall)" stroke="#222" stroke-width="0.4"/>
<circle cx="524.7" cy="519.3" r="3.2" fill="url(#grayBall)" stroke="#222" stroke-width="0.4"/>
<circle cx="504.0" cy="455.5" r="3.2" fill="url(#grayBall)" stroke="#222" stroke-width="0.4"/>
<circle cx="529.6" cy="523.7" r="3.2" fill="url(#grayBall)" stroke="#222" stroke-width="0.4"/>
<circle cx="509.9" cy="500.7" r="3.2" fill="url(#grayBall)" stroke="#222" stroke-width="0.4"/>
<circle cx="506.4" cy="499.2" r="3.2" fill="url(#grayBall)" stroke="#222" stroke-width="0.4"/>
<circle cx="500.0" cy="475.6" r="3.2" fill="url(#grayBall)" stroke="#222" stroke-width="0.4"/>
<circle cx="506.7" cy="504.8" r="3.2" fill="url(#grayBall)" stroke="#222" stroke-width="0.4"/>
<circle cx="501.7" cy="478.3" r="3.2" fill="url(#grayBall)" stroke="#222" stroke-width="0.4"/>
<circle cx="508.3" cy="508.4" r="3.2" fill="url(#grayBall)" stroke="#222" stroke-width="0.4"/>
<circle cx="501.5" cy="459.1" r="3.2" fill="url(#grayBall)" stroke="#222" stroke-width="0.4"/>
<circle cx="524.6" cy="518.9" r="3.2" fill="url(#grayBall)" stroke="#222" stroke-width="0.4"/>
<circle cx="581.3" cy="542.5" r="3.2" fill="url(#grayBall)" stroke="#222" stroke-width="0.4"/>
<circle cx="504.5" cy="490.7" r="3.2" fill="url(#grayBall)" stroke="#222" stroke-width="0.4"/>
<circle cx="499.6" cy="478.9" r="3.2" fill="url(#grayBall)" stroke="#222" stroke-width="0.4"/>
<circle cx="526.7" cy="520.1" r="3.2" fill="url(#grayBall)" stroke="#222" stroke-width="0.4"/>
<circle cx="498.9" cy="456.9" r="3.2" fill="url(#grayBall)" stroke="#222" stroke-width="0.4"/>
<circle cx="503.1" cy="434.5" r="3.2" fill="url(#grayBall)" stroke="#222" stroke-width="0.4"/>
<circle cx="503.9" cy="446.0" r="3.2" fill="url(#grayBall)" stroke="#222" stroke-width="0.4"/>
<circle cx="533.2" cy="523.1" r="3.2" fill="url(#grayBall)" stroke="#222" stroke-width="0.4"/>
<circle cx="503.0" cy="492.1" r="3.2" fill="url(#grayBall)" stroke="#222" stroke-width="0.4"/>
<circle cx="510.6" cy="512.3" r="3.2" fill="url(#grayBall)" stroke="#222" stroke-width="0.4"/>
<circle cx="505.3" cy="458.6" r="3.2" fill="url(#grayBall)" stroke="#222" stroke-width="0.4"/>
<circle cx="497.7" cy="464.6" r="3.2" fill="url(#grayBall)" stroke="#222" stroke-width="0.4"/>
<circle cx="562.2" cy="539.5" r="3.2" fill="url(#grayBall)" stroke="#222" stroke-width="0.4"/>
<circle cx="505.7" cy="495.0" r="3.2" fill="url(#grayBall)" stroke="#222" stroke-width="0.4"/>
<circle cx="546.8" cy="535.5" r="3.2" fill="url(#grayBall)" stroke="#222" stroke-width="0.4"/>
<circle cx="513.3" cy="513.1" r="3.2" fill="url(#grayBall)" stroke="#222" stroke-width="0.4"/>
<circle cx="550.6" cy="530.6" r="3.2" fill="url(#grayBall)" stroke="#222" stroke-width="0.4"/>
<circle cx="507.9" cy="507.9" r="3.2" fill="url(#grayBall)" stroke="#222" stroke-width="0.4"/>
<circle cx="529.2" cy="519.5" r="3.2" fill="url(#grayBall)" stroke="#222" stroke-width="0.4"/>
<circle cx="586.2" cy="549.3" r="3.2" fill="url(#grayBall)" stroke="#222" stroke-width="0.4"/>
<circle cx="509.1" cy="511.9" r="3.2" fill="url(#grayBall)" stroke="#222" stroke-width="0.4"/>
<circle cx="504.0" cy="446.0" r="3.2" fill="url(#grayBall)" stroke="#222" stroke-width="0.4"/>
<circle cx="505.2" cy="467.0" r="3.2" fill="url(#grayBall)" stroke="#222" stroke-width="0.4"/>
<circle cx="557.9" cy="537.6" r="3.2" fill="url(#grayBall)" stroke="#222" stroke-width="0.4"/>
<circle cx="501.8" cy="437.0" r="3.2" fill="url(#grayBall)" stroke="#222" stroke-width="0.4"/>
<circle cx="501.4" cy="458.2" r="3.2" fill="url(#grayBall)" stroke="#222" stroke-width="0.4"/>
<circle cx="503.1" cy="448.2" r="3.2" fill="url(#grayBall)" stroke="#222" stroke-width="0.4"/>
<circle cx="559.6" cy="532.5" r="3.2" fill="url(#grayBall)" stroke="#222" stroke-width="0.4"/>
<circle cx="527.8" cy="517.9" r="3.2" fill="url(#grayBall)" stroke="#222" stroke-width="0.4"/>
<circle cx="557.6" cy="534.1" r="3.2" fill="url(#grayBall)" stroke="#222" stroke-width="0.4"/>
<circle cx="522.6" cy="520.2" r="3.2" fill="url(#grayBall)" stroke="#222" stroke-width="0.4"/>
<circle cx="499.9" cy="472.8" r="3.2" fill="url(#grayBall)" stroke="#222" stroke-width="0.4"/>
<circle cx="550.4" cy="533.2" r="3.2" fill="url(#grayBall)" stroke="#222" stroke-width="0.4"/>
<circle cx="574.2" cy="546.8" r="3.2" fill="url(#grayBall)" stroke="#222" stroke-width="0.4"/>
<circle cx="501.9" cy="468.3" r="3.2" fill="url(#grayBall)" stroke="#222" stroke-width="0.4"/>
<circle cx="542.2" cy="534.1" r="3.2" fill="url(#grayBall)" stroke="#222" stroke-width="0.4"/>
<circle cx="504.2" cy="501.8" r="3.2" fill="url(#grayBall)" stroke="#222" stroke-width="0.4"/>
<circle cx="511.0" cy="507.4" r="3.2" fill="url(#grayBall)" stroke="#222" stroke-width="0.4"/>
<circle cx="500.6" cy="451.0" r="3.2" fill="url(#grayBall)" stroke="#222" stroke-width="0.4"/>
<circle cx="497.1" cy="445.7" r="3.2" fill="url(#grayBall)" stroke="#222" stroke-width="0.4"/>
<circle cx="503.7" cy="452.5" r="3.2" fill="url(#grayBall)" stroke="#222" stroke-width="0.4"/>
<circle cx="497.9" cy="458.8" r="3.2" fill="url(#grayBall)" stroke="#222" stroke-width="0.4"/>
<circle cx="501.7" cy="471.8" r="3.2" fill="url(#grayBall)" stroke="#222" stroke-width="0.4"/>
<circle cx="579.6" cy="548.6" r="3.2" fill="url(#grayBall)" stroke="#222" stroke-width="0.4"/>
<circle cx="572.1" cy="538.4" r="3.2" fill="url(#grayBall)" stroke="#222" stroke-width="0.4"/>
<circle cx="550.8" cy="534.0" r="3.2" fill="url(#grayBall)" stroke="#222" stroke-width="0.4"/>
<circle cx="501.9" cy="489.0" r="3.2" fill="url(#grayBall)" stroke="#222" stroke-width="0.4"/>
<circle cx="535.3" cy="526.8" r="3.2" fill="url(#grayBall)" stroke="#222" stroke-width="0.4"/>
<circle cx="565.0" cy="542.1" r="3.2" fill="url(#grayBall)" stroke="#222" stroke-width="0.4"/>
<circle cx="498.7" cy="445.6" r="3.2" fill="url(#grayBall)" stroke="#222" stroke-width="0.4"/>
<circle cx="509.1" cy="499.7" r="3.2" fill="url(#grayBall)" stroke="#222" stroke-width="0.4"/>
<circle cx="502.3" cy="447.5" r="3.2" fill="url(#grayBall)" stroke="#222" stroke-width="0.4"/>
<circle cx="520.6" cy="516.8" r="3.2" fill="url(#grayBall)" stroke="#222" stroke-width="0.4"/>
<circle cx="575.2" cy="538.5" r="3.2" fill="url(#grayBall)" stroke="#222" stroke-width="0.4"/>
<circle cx="497.1" cy="437.7" r="3.2" fill="url(#grayBall)" stroke="#222" stroke-width="0.4"/>
<circle cx="506.7" cy="479.2" r="3.2" fill="url(#grayBall)" stroke="#222" stroke-width="0.4"/>
<circle cx="505.0" cy="475.2" r="3.2" fill="url(#grayBall)" stroke="#222" stroke-width="0.4"/>
<circle cx="519.3" cy="517.8" r="3.2" fill="url(#grayBall)" stroke="#222" stroke-width="0.4"/>
<circle cx="511.5" cy="506.1" r="3.2" fill="url(#grayBall)" stroke="#222" stroke-width="0.4"/>
<circle cx="499.4" cy="441.4" r="3.2" fill="url(#grayBall)" stroke="#222" stroke-width="0.4"/>
<circle cx="559.6" cy="533.4" r="3.2" fill="url(#grayBall)" stroke="#222" stroke-width="0.4"/>
<circle cx="551.3" cy="537.5" r="3.2" fill="url(#grayBall)" stroke="#222" stroke-width="0.4"/>
<circle cx="500.6" cy="470.8" r="3.2" fill="url(#grayBall)" stroke="#222" stroke-width="0.4"/>
<circle cx="507.3" cy="507.0" r="3.2" fill="url(#grayBall)" stroke="#222" stroke-width="0.4"/>
<circle cx="587.7" cy="547.9" r="3.2" fill="url(#grayBall)" stroke="#222" stroke-width="0.4"/>
<circle cx="535.4" cy="522.5" r="3.2" fill="url(#grayBall)" stroke="#222" stroke-width="0.4"/>
<circle cx="527.8" cy="522.1" r="3.2" fill="url(#grayBall)" stroke="#222" stroke-width="0.4"/>
<circle cx="501.4" cy="454.6" r="3.2" fill="url(#grayBall)" stroke="#222" stroke-width="0.4"/>
<circle cx="532.7" cy="524.8" r="3.2" fill="url(#grayBall)" stroke="#222" stroke-width="0.4"/>
<circle cx="504.6" cy="501.3" r="3.2" fill="url(#grayBall)" stroke="#222" stroke-width="0.4"/>
<circle cx="520.5" cy="519.1" r="3.2" fill="url(#grayBall)" stroke="#222" stroke-width="0.4"/>
<circle cx="527.9" cy="527.9" r="3.2" fill="url(#grayBall)" stroke="#222" stroke-width="0.4"/>
<circle cx="500.6" cy="486.1" r="3.2" fill="url(#grayBall)" stroke="#222" stroke-width="0.4"/>
<circle cx="575.2" cy="541.9" r="3.2" fill="url(#grayBall)" stroke="#222" stroke-width="0.4"/>
<circle cx="536.5" cy="526.6" r="3.2" fill="url(#grayBall)" stroke="#222" stroke-width="0.4"/>
<circle cx="499.2" cy="464.4" r="3.2" fill="url(#grayBall)" stroke="#222" stroke-width="0.4"/>
<circle cx="503.4" cy="490.4" r="3.2" fill="url(#grayBall)" stroke="#222" stroke-width="0.4"/>
<circle cx="498.6" cy="439.3" r="3.2" fill="url(#grayBall)" stroke="#222" stroke-width="0.4"/>
<circle cx="535.8" cy="528.2" r="3.2" fill="url(#grayBall)" stroke="#222" stroke-width="0.4"/>
<circle cx="504.2" cy="466.0" r="3.2" fill="url(#grayBall)" stroke="#222" stroke-width="0.4"/>
<circle cx="513.0" cy="512.8" r="3.2" fill="url(#grayBall)" stroke="#222" stroke-width="0.4"/>
<circle cx="502.4" cy="482.2" r="3.2" fill="url(#grayBall)" stroke="#222" stroke-width="0.4"/>
<circle cx="505.5" cy="486.9" r="3.2" fill="url(#grayBall)" stroke="#222" stroke-width="0.4"/>
<circle cx="505.7" cy="497.1" r="3.2" fill="url(#grayBall)" stroke="#222" stroke-width="0.4"/>
<circle cx="504.7" cy="434.7" r="3.2" fill="url(#grayBall)" stroke="#222" stroke-width="0.4"/>
<circle cx="505.9" cy="490.9" r="3.2" fill="url(#grayBall)" stroke="#222" stroke-width="0.4"/>
<circle cx="570.9" cy="543.6" r="3.2" fill="url(#grayBall)" stroke="#222" stroke-width="0.4"/>
<circle cx="505.2" cy="475.2" r="3.2" fill="url(#grayBall)" stroke="#222" stroke-width="0.4"/>
<circle cx="544.0" cy="524.9" r="3.2" fill="url(#grayBall)" stroke="#222" stroke-width="0.4"/>
<circle cx="555.6" cy="534.7" r="3.2" fill="url(#grayBall)" stroke="#222" stroke-width="0.4"/>
<circle cx="559.2" cy="536.9" r="3.2" fill="url(#grayBall)" stroke="#222" stroke-width="0.4"/>
<circle cx="508.9" cy="511.5" r="3.2" fill="url(#grayBall)" stroke="#222" stroke-width="0.4"/>
<circle cx="506.8" cy="503.2" r="3.2" fill="url(#grayBall)" stroke="#222" stroke-width="0.4"/>
<circle cx="500.0" cy="486.7" r="3.2" fill="url(#grayBall)" stroke="#222" stroke-width="0.4"/>
<circle cx="509.3" cy="511.7" r="3.2" fill="url(#grayBall)" stroke="#222" stroke-width="0.4"/>
<circle cx="534.8" cy="525.0" r="3.2" fill="url(#grayBall)" stroke="#222" stroke-width="0.4"/>
<circle cx="501.5" cy="495.6" r="3.2" fill="url(#grayBall)" stroke="#222" stroke-width="0.4"/>
<circle cx="564.4" cy="540.7" r="3.2" fill="url(#grayBall)" stroke="#222" stroke-width="0.4"/>
<circle cx="502.8" cy="459.1" r="3.2" fill="url(#grayBall)" stroke="#222" stroke-width="0.4"/>
<circle cx="502.2" cy="439.9" r="3.2" fill="url(#grayBall)" stroke="#222" stroke-width="0.4"/>
<circle cx="580.3" cy="548.5" r="3.2" fill="url(#grayBall)" stroke="#222" stroke-width="0.4"/>
<circle cx="566.3" cy="543.5" r="3.2" fill="url(#grayBall)" stroke="#222" stroke-width="0.4"/>
<circle cx="589.2" cy="551.9" r="3.2" fill="url(#grayBall)" stroke="#222" stroke-width="0.4"/>
<circle cx="561.1" cy="540.6" r="3.2" fill="url(#grayBall)" stroke="#222" stroke-width="0.4"/>
<circle cx="550.0" cy="531.6" r="3.2" fill="url(#grayBall)" stroke="#222" stroke-width="0.4"/>
<circle cx="541.2" cy="532.3" r="3.2" fill="url(#grayBall)" stroke="#222" stroke-width="0.4"/>
<circle cx="586.9" cy="549.4" r="3.2" fill="url(#grayBall)" stroke="#222" stroke-width="0.4"/>
<circle cx="499.2" cy="486.2" r="3.2" fill="url(#grayBall)" stroke="#222" stroke-width="0.4"/>
<circle cx="503.1" cy="486.2" r="3.2" fill="url(#grayBall)" stroke="#222" stroke-width="0.4"/>
<circle cx="503.9" cy="500.5" r="3.2" fill="url(#grayBall)" stroke="#222" stroke-width="0.4"/>
<circle cx="537.8" cy="523.7" r="3.2" fill="url(#grayBall)" stroke="#222" stroke-width="0.4"/>
<circle cx="571.0" cy="542.0" r="3.2" fill="url(#grayBall)" stroke="#222" stroke-width="0.4"/>
<circle cx="504.4" cy="483.7" r="3.2" fill="url(#grayBall)" stroke="#222" stroke-width="0.4"/>
<circle cx="515.9" cy="516.7" r="3.2" fill="url(#grayBall)" stroke="#222" stroke-width="0.4"/>
<circle cx="508.5" cy="506.8" r="3.2" fill="url(#grayBall)" stroke="#222" stroke-width="0.4"/>
<circle cx="517.4" cy="522.0" r="3.2" fill="url(#grayBall)" stroke="#222" stroke-width="0.4"/>
<circle cx="508.9" cy="508.4" r="3.2" fill="url(#grayBall)" stroke="#222" stroke-width="0.4"/>
<circle cx="545.8" cy="532.7" r="3.2" fill="url(#grayBall)" stroke="#222" stroke-width="0.4"/>
<circle cx="500.5" cy="464.0" r="3.2" fill="url(#grayBall)" stroke="#222" stroke-width="0.4"/>
<circle cx="544.9" cy="534.8" r="3.2" fill="url(#grayBall)" stroke="#222" stroke-width="0.4"/>
<circle cx="504.5" cy="502.4" r="3.2" fill="url(#grayBall)" stroke="#222" stroke-width="0.4"/>
<circle cx="498.9" cy="458.3" r="3.2" fill="url(#grayBall)" stroke="#222" stroke-width="0.4"/>
<circle cx="574.7" cy="544.8" r="3.2" fill="url(#grayBall)" stroke="#222" stroke-width="0.4"/>
<circle cx="501.6" cy="459.3" r="3.2" fill="url(#grayBall)" stroke="#222" stroke-width="0.4"/>
<circle cx="583.7" cy="545.0" r="3.2" fill="url(#grayBall)" stroke="#222" stroke-width="0.4"/>
<circle cx="552.2" cy="534.7" r="3.2" fill="url(#grayBall)" stroke="#222" stroke-width="0.4"/>
<circle cx="516.9" cy="519.4" r="3.2" fill="url(#grayBall)" stroke="#222" stroke-width="0.4"/>
<circle cx="515.6" cy="514.6" r="3.2" fill="url(#grayBall)" stroke="#222" stroke-width="0.4"/>
<circle cx="584.3" cy="547.5" r="3.2" fill="url(#grayBall)" stroke="#222" stroke-width="0.4"/>
<circle cx="539.0" cy="526.7" r="3.2" fill="url(#grayBall)" stroke="#222" stroke-width="0.4"/>
<circle cx="506.2" cy="501.7" r="3.2" fill="url(#grayBall)" stroke="#222" stroke-width="0.4"/>
<circle cx="507.1" cy="496.1" r="3.2" fill="url(#grayBall)" stroke="#222" stroke-width="0.4"/>
<circle cx="497.8" cy="449.3" r="3.2" fill="url(#grayBall)" stroke="#222" stroke-width="0.4"/>
<circle cx="543.8" cy="528.9" r="3.2" fill="url(#grayBall)" stroke="#222" stroke-width="0.4"/>
<circle cx="518.6" cy="519.3" r="3.2" fill="url(#grayBall)" stroke="#222" stroke-width="0.4"/>
<circle cx="577.6" cy="548.5" r="3.2" fill="url(#grayBall)" stroke="#222" stroke-width="0.4"/>
<circle cx="589.6" cy="546.2" r="3.2" fill="url(#grayBall)" stroke="#222" stroke-width="0.4"/>
<circle cx="500.9" cy="470.5" r="3.2" fill="url(#grayBall)" stroke="#222" stroke-width="0.4"/>
<circle cx="540.9" cy="529.5" r="3.2" fill="url(#grayBall)" stroke="#222" stroke-width="0.4"/>
<circle cx="564.2" cy="540.0" r="3.2" fill="url(#grayBall)" stroke="#222" stroke-width="0.4"/>
</g>
<circle cx="536.4" cy="487.2" r="10" fill="url(#blueBall)" stroke="#0a2466" stroke-width="1.2"/>
<circle cx="568.6" cy="485.8" r="9" fill="url(#blueBall)" stroke="#0a2466" stroke-width="1.2"/>
<circle cx="549.6" cy="500.4" r="12.5" fill="url(#blueBall)" stroke="#0a2466" stroke-width="1.2"/>
<circle cx="478" cy="531" r="9.6" fill="url(#redBall)" stroke="#500" stroke-width="1"/>
<circle cx="489" cy="521.7" r="7.3" fill="url(#redBall)" stroke="#500" stroke-width="1"/>
<circle cx="502.8" cy="544.2" r="12.3" fill="url(#redBall)" stroke="#500" stroke-width="1"/>
<circle cx="524.3" cy="505.5" r="70" fill="none" stroke="#14a4de" stroke-width="4.2"/>
<line x1="239.3" y1="244" x2="282.7" y2="308.7" stroke="#111" stroke-width="1.1"/>
<line x1="201.2" y1="289.2" x2="244.6" y2="353.2" stroke="#111" stroke-width="1.1"/>
<line x1="309.3" y1="215.5" x2="351.7" y2="279.4" stroke="#111" stroke-width="1.1"/>
<line x1="363" y1="142" x2="439" y2="257.3" stroke="#111" stroke-width="1.1"/>
<line x1="470" y1="151.1" x2="512.5" y2="215.9" stroke="#111" stroke-width="1.1"/>
<line x1="354.3" y1="384" x2="401.3" y2="454.4" stroke="#111" stroke-width="1.1"/>
<line x1="566" y1="516.9" x2="623.5" y2="516.9" stroke="#111" stroke-width="1.1"/>
<text x="289" y="97.7" textLength="110.3" lengthAdjust="spacingAndGlyphs" font-weight="bold" font-size="13" fill="#1a1a1a">церію і кераміка</text>
<text x="289.5" y="110.3" textLength="138.9" lengthAdjust="spacingAndGlyphs" font-size="12.3" letter-spacing="0.7" fill="#222">стільникова структура</text>
<text x="289.5" y="121.6" textLength="78.2" lengthAdjust="spacingAndGlyphs" font-size="12.3" letter-spacing="0.7" fill="#222">каталізатора</text>
<text x="444" y="98.1" textLength="153.1" lengthAdjust="spacingAndGlyphs" font-weight="bold" font-size="13" fill="#1a1a1a">каталізатор окислення</text>
<text x="444" y="110.6" textLength="211.4" lengthAdjust="spacingAndGlyphs" font-size="12.3" letter-spacing="0.7" fill="#222">для усунення оксиду вуглецю (СО)</text>
<text x="444" y="122.6" textLength="159.5" lengthAdjust="spacingAndGlyphs" font-size="12.3" letter-spacing="0.7" fill="#222">і незгорілі вуглеводні (НС)</text>
<text x="802.4" y="94.8" textLength="161.7" lengthAdjust="spacingAndGlyphs" font-weight="bold" font-size="13" fill="#1a1a1a">викиди хвостової труби</text>
<text x="802.8" y="107.8" textLength="63" lengthAdjust="spacingAndGlyphs" font-size="12.3" letter-spacing="0.7" fill="#222">H20 (вода)</text>
<text x="802.8" y="119.9" textLength="135" lengthAdjust="spacingAndGlyphs" font-size="12.3" letter-spacing="0.7" fill="#222">CO2 (вуглекислий газ)</text>
<text x="802.8" y="131.6" textLength="52.5" lengthAdjust="spacingAndGlyphs" font-size="12.3" letter-spacing="0.7" fill="#222">N2 (азот)</text>
<text x="183.3" y="180.1" textLength="165.8" lengthAdjust="spacingAndGlyphs" font-weight="bold" font-size="13" fill="#1a1a1a">каталізатор відновлення</text>
<text x="183.3" y="191.6" textLength="112.4" lengthAdjust="spacingAndGlyphs" font-size="12.3" letter-spacing="0.7" fill="#222">для усунення NOX</text>
<text x="145.4" y="232.6" textLength="141.1" lengthAdjust="spacingAndGlyphs" font-weight="bold" font-size="13" fill="#1a1a1a">теплозахисний екран</text>
<text x="94.9" y="264.7" textLength="119.9" lengthAdjust="spacingAndGlyphs" font-weight="bold" font-size="13" fill="#1a1a1a">нержавіюча сталь</text>
<text x="95.8" y="276.2" textLength="124.8" lengthAdjust="spacingAndGlyphs" font-size="12.3" letter-spacing="0.7" fill="#222">корпус каталізатора</text>
<text x="36.4" y="485.6" textLength="94.3" lengthAdjust="spacingAndGlyphs" font-weight="bold" font-size="13" fill="#1a1a1a">вихлопний газ</text>
<text x="36.4" y="498.2" textLength="71.3" lengthAdjust="spacingAndGlyphs" font-size="12.3" letter-spacing="0.7" fill="#222">НС (водень)</text>
<text x="36.4" y="510.2" textLength="110.6" lengthAdjust="spacingAndGlyphs" font-size="12.3" letter-spacing="0.7" fill="#222">СО (окис вуглецю)</text>
<text x="289.2" y="486.8" textLength="155.9" lengthAdjust="spacingAndGlyphs" font-weight="bold" font-size="13" fill="#1a1a1a">штекер датчика кисню</text>
<text x="780.6" y="382.9" textLength="150.2" lengthAdjust="spacingAndGlyphs" font-weight="bold" font-size="13" fill="#1a1a1a">каталітично активний</text>
<text x="780.6" y="394.5" textLength="64.4" lengthAdjust="spacingAndGlyphs" font-weight="bold" font-size="13" fill="#1a1a1a">матеріал</text>
<text x="780.6" y="406.2" textLength="144.5" lengthAdjust="spacingAndGlyphs" font-size="12.3" letter-spacing="0.7" fill="#222">оксид алюмінію - AI2O3</text>
<text x="780.6" y="418.8" textLength="126.2" lengthAdjust="spacingAndGlyphs" font-size="12.3" letter-spacing="0.7" fill="#222">оксид церуму - Ce02</text>
<text x="780.6" y="430.4" textLength="170.5" lengthAdjust="spacingAndGlyphs" font-size="12.3" letter-spacing="0.7" fill="#222">рідкоземельні стабілізатори</text>
<text x="780.6" y="442" textLength="178.3" lengthAdjust="spacingAndGlyphs" font-size="12.3" letter-spacing="0.7" fill="#222">позиційні метали - Pt/Pd/Rh</text>
<text x="642.2" y="517.9" textLength="109.4" lengthAdjust="spacingAndGlyphs" font-weight="bold" font-size="13" fill="#1a1a1a">основна реакція</text>
<text x="642.5" y="529.6" textLength="96.4" lengthAdjust="spacingAndGlyphs" font-size="12.3" letter-spacing="0.7" fill="#222">C0+1/2 02=CO2</text>
<text x="642.5" y="541.5" textLength="140.8" lengthAdjust="spacingAndGlyphs" font-size="12.3" letter-spacing="0.7" fill="#222">H4C2+3O2=2CO2+2H20</text>
<text x="642.5" y="553.1" textLength="108.6" lengthAdjust="spacingAndGlyphs" font-size="12.3" letter-spacing="0.7" fill="#222">CO+NOX=CO2+N2</text>
</svg>
</body></html>
